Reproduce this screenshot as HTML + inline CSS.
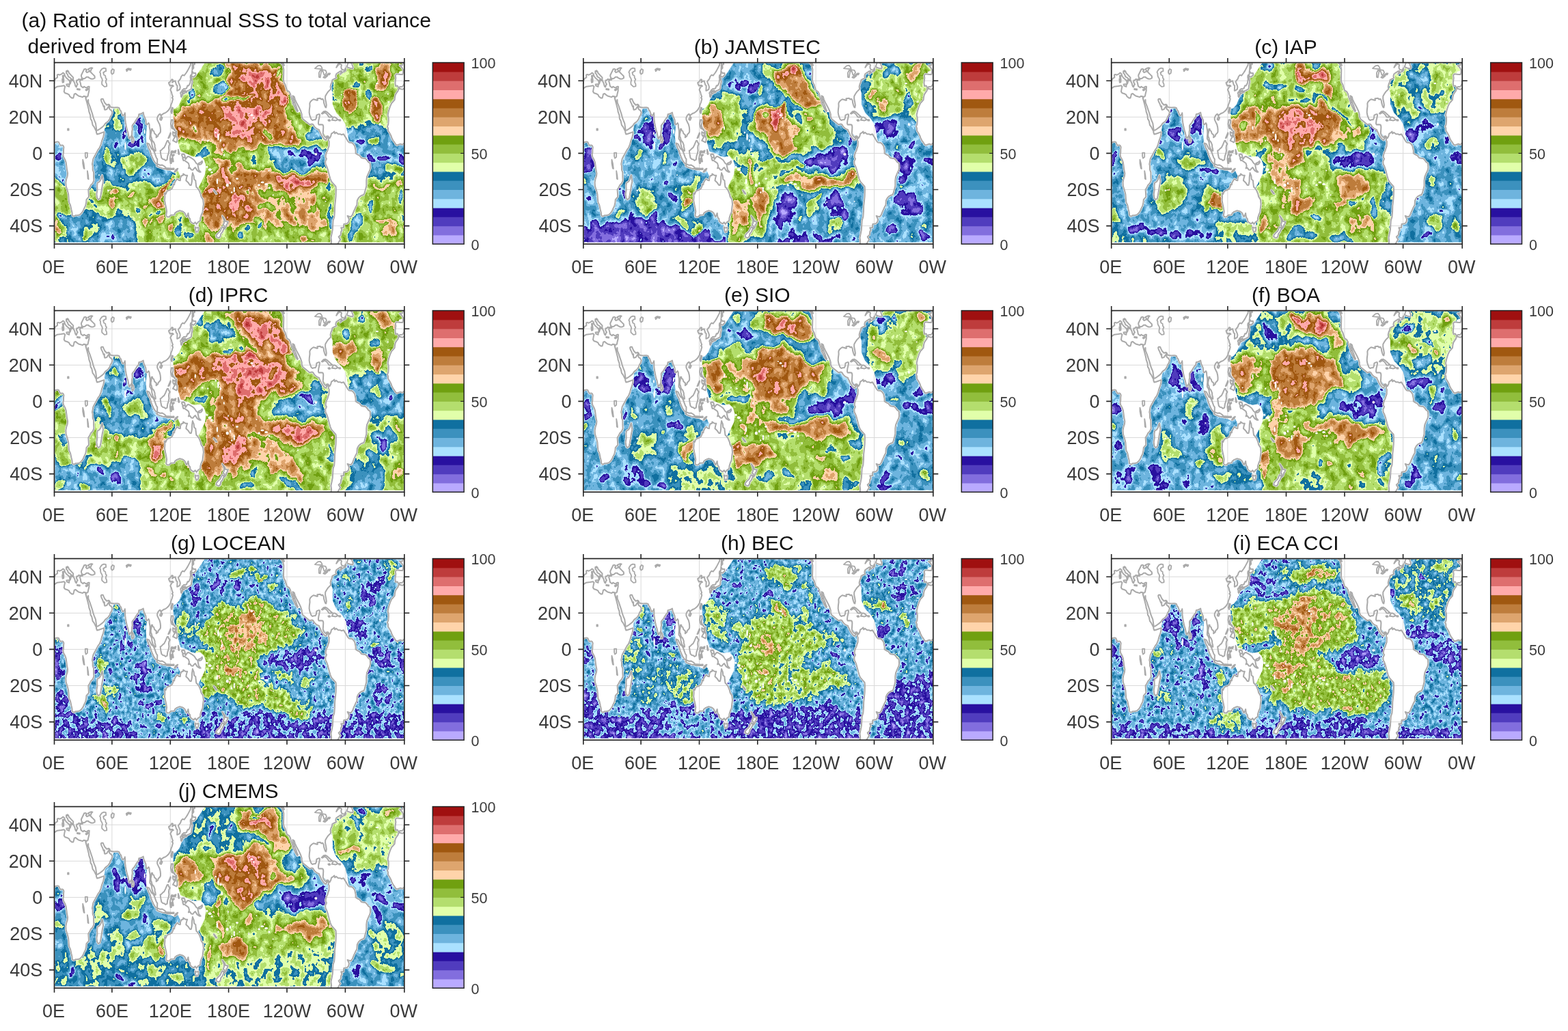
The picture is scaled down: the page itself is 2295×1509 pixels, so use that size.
<!DOCTYPE html>
<html lang="en"><head><meta charset="utf-8"><title>Ratio of interannual SSS to total variance</title>
<style>html,body{margin:0;padding:0;background:#fff}body{width:2295px;height:1509px;overflow:hidden}svg{display:block;font-family:'Liberation Sans', Arial, Helvetica, sans-serif}</style></head>
<body>
<svg width="2295" height="1509" viewBox="0 0 2295 1509">
<defs><clipPath id="fr"><rect x="0" y="0" width="512.3" height="265.6"/></clipPath><path id="land" d="M2.1 -0.5L-2.1 1.1L-2.6 3.7L-6.8 4.2L-3.6 7.2L-1.7 10.6L-1.7 14.6L-2.6 17.5L-5.7 17.3L-11.4 16.7L-13.1 18.6L-12.5 22.6L-13.4 29.7L-12.7 34.5L-10 34L-9 35.9L-7.8 37.2L-6.4 35.3L-2.8 35.1L-0.7 31.9L0 29.7L-0.4 27.9L1.4 23.9L4.6 21.5L4.3 18.1L5.7 17.3L7.8 18.1L10.7 16.7L12.8 14.9L14.7 16.5L15.7 19.9L17.8 22.6L19.9 24.4L22.3 26.6L22.8 30.5L22.3 31.9L23.5 30.5L24.2 27.9L23.6 25.8L24.2 25.2L26.2 26.6L25.6 24.4L22.8 21.8L20.6 20.7L19.2 17L17.6 15.4L17.5 12.5L19.5 11.7L19.4 13.3L20.6 12.7L21.6 15.4L23.5 17.3L25.6 19.7L27.7 21.8L27.6 25.2L28.7 27.9L29.9 30.5L30.6 33.2L31.3 35.1L32.4 35.9L33 33.2L34.2 31.9L33.4 30.5L32.4 28.4L32.7 25.8L34.2 26L35.6 24.2L37.3 24.7L38.1 25.2L39.8 23.9L41.3 23.4L40.6 22.6L39.8 21.2L39.4 18.6L40.7 15.9L42.3 12.7L43.7 9.6L45.5 9.3L47.7 10.6L46.2 12.5L47.7 14.6L50.5 13.3L51.9 12.5L49.8 10.1L49.8 9.3L52.7 8L54.8 7.7L55.9 8L54.1 9.8L53.4 12L52.7 13.3L54.1 14.9L56.5 17.3L59.1 19.9L59.2 22.6L56.9 23.9L54.1 23.9L51.2 22.6L49.8 21.2L47 21.2L44.8 23.1L42 23.6L41.3 25.2L38.4 25.5L37.3 26.6L37.7 28.4L38.4 30.5L38.8 33.2L39.1 34.5L40.3 35.3L42 36.7L43.5 35.1L45.5 36.4L47.7 36.9L49.4 35.1L51.2 35.1L50.9 38.5L50.9 41.2L50.5 42.8L49.8 45.7L49.1 49.1L47.7 50.2L46.2 49.9L46.4 53.1L47.7 57.1L48.7 59L49.7 54.4L49.8 58.4L51.9 63.7L53.4 68.3L55.5 74.4L56.9 79.7L58.3 83.7L60.5 89L61.2 94.3L61.9 99.1L64 98.8L66.9 96.9L69.7 94.8L72.6 92.2L74.7 89L76.8 87.6L79 85.5L81.1 82.6L82.3 78.9L83.7 77L85.1 73L83.4 70.1L81.1 68.3L80.3 66.4L80.1 62.9L79.7 64.3L78.3 65.9L76.8 68.5L74 69.1L73.3 67.7L73.4 63.7L72.3 64.8L71.4 62.4L70.4 59.8L69 57.1L68.3 54.4L69 53.1L71.2 53.1L72.3 55.8L74 59.2L76.8 62.2L79.7 61.1L81.1 62.4L81.8 64.8L84 65.3L87.5 65.9L90.4 65.6L92.5 65.6L94.9 66.4L96.1 69.6L97.5 70.9L98.2 73.3L99.6 77L100.3 77.6L102.5 76.2L103.3 73.6L103.6 77L103.6 82.3L104.3 87.6L105 91.6L106.4 98.3L107.9 102.8L108.6 106.5L109.6 110.8L110.3 111.3L111.3 109.2L112.4 108.1L113.6 105.4L113.7 100.9L114.3 98L114 92.4L115.3 90.3L117.1 88.4L118.8 85.5L121 81.8L123.1 79.7L123.8 75.7L125.9 75.2L128.1 74.4L130.2 73L130.9 77L131.3 78.4L132.3 80.2L133.8 83.7L134.5 90.3L135.9 90.8L138 88.4L139 90.3L139.2 94.3L140.2 99.6L140.3 104.9L139.9 108.9L139.9 111.6L141.6 114.2L142.7 116.9L142.7 119.5L143.4 122.2L144.2 125.4L145.9 127.5L147.3 129.1L148.3 129.1L148 126.2L147.1 123.5L147.1 120.8L145.9 117.4L145.2 116.1L143.7 114.5L143 113.4L142.3 110.2L141.3 108.1L141.2 104.9L142 101.5L142.3 97.2L143.6 97.2L143.7 99.1L145.6 100.4L146.6 103.6L148 104.9L149.4 106.2L149.1 109.7L151.6 107.6L152.3 105.2L154.1 103.6L155.4 101.5L155.5 98.3L155.1 94.3L154.1 90.3L152.6 87.6L150.8 83.7L150.6 81L152 77.8L153.7 75.7L155.1 75.4L156.1 78.4L157.2 76.5L159.4 74.9L161.5 73.8L162.5 73.6L165.1 71.7L167.2 69.6L168.6 67.5L170.1 65.1L170.8 61.9L172.2 58.4L173.3 54.4L173.6 53.1L172.2 51.5L173.5 49.9L172.2 46.5L171.2 42.5L169.8 39.8L171.2 37.2L172.2 35.3L174.3 34.5L172.9 33.2L169.3 34L167.9 31.3L167.5 29.2L169.3 28.4L172.2 24.4L173.6 25.2L172.6 29.2L175 27.4L176.9 26.8L177.9 30L178.6 32.7L180 33.7L179.9 37.2L179.7 41.2L181.4 40.6L183.6 39.3L184.3 35.9L183.6 33.2L182.2 30L181.4 27.9L182.9 25.8L184.6 23.9L185.7 20.5L187.8 18.1L190 19.1L192.8 15.4L195 12L197.1 8L199.2 4L199.9 0L201.4 -6.6L200.7 -15.9L2.1 -15.9ZM514.4 -0.5L510.2 1.1L509.7 3.7L505.5 4.2L508.7 7.2L510.6 10.6L510.6 14.6L509.7 17.5L506.6 17.3L500.9 16.7L499.2 18.6L499.8 22.6L498.9 29.7L499.6 34.5L502.3 34L503.3 35.9L504.5 37.2L505.9 35.3L509.5 35.1L511.6 31.9L512.3 29.7L511.9 27.9L513.7 23.9L516.9 21.5L516.6 18.1L518 17.3L520.1 18.1L523 16.7L525.1 14.9L527 16.5L528 19.9L530.1 22.6L532.2 24.4L534.6 26.6L535.1 30.5L534.6 31.9L535.8 30.5L536.5 27.9L535.9 25.8L536.5 25.2L538.5 26.6L537.9 24.4L535.1 21.8L532.9 20.7L531.5 17L529.9 15.4L529.8 12.5L531.8 11.7L531.7 13.3L532.9 12.7L533.9 15.4L535.8 17.3L537.9 19.7L540 21.8L539.9 25.2L541 27.9L542.2 30.5L542.9 33.2L543.6 35.1L544.7 35.9L545.3 33.2L546.5 31.9L545.7 30.5L544.7 28.4L545 25.8L546.5 26L547.9 24.2L549.6 24.7L550.4 25.2L552.1 23.9L553.6 23.4L552.9 22.6L552.1 21.2L551.7 18.6L553 15.9L554.6 12.7L556 9.6L557.8 9.3L560 10.6L558.5 12.5L560 14.6L562.8 13.3L564.2 12.5L562.1 10.1L562.1 9.3L565 8L567.1 7.7L568.2 8L566.4 9.8L565.7 12L565 13.3L566.4 14.9L568.8 17.3L571.4 19.9L571.5 22.6L569.2 23.9L566.4 23.9L563.5 22.6L562.1 21.2L559.3 21.2L557.1 23.1L554.3 23.6L553.6 25.2L550.7 25.5L549.6 26.6L550 28.4L550.7 30.5L551.1 33.2L551.4 34.5L552.6 35.3L554.3 36.7L555.8 35.1L557.8 36.4L560 36.9L561.7 35.1L563.5 35.1L563.2 38.5L563.2 41.2L562.8 42.8L562.1 45.7L561.4 49.1L560 50.2L558.5 49.9L558.7 53.1L560 57.1L561 59L562 54.4L562.1 58.4L564.2 63.7L565.7 68.3L567.8 74.4L569.2 79.7L570.6 83.7L572.8 89L573.5 94.3L574.2 99.1L576.3 98.8L579.2 96.9L582 94.8L584.9 92.2L587 89L589.1 87.6L591.3 85.5L593.4 82.6L594.6 78.9L596 77L597.4 73L595.7 70.1L593.4 68.3L592.6 66.4L592.4 62.9L592 64.3L590.6 65.9L589.1 68.5L586.3 69.1L585.6 67.7L585.7 63.7L584.6 64.8L583.7 62.4L582.7 59.8L581.3 57.1L580.6 54.4L581.3 53.1L583.5 53.1L584.6 55.8L586.3 59.2L589.1 62.2L592 61.1L593.4 62.4L594.1 64.8L596.3 65.3L599.8 65.9L602.7 65.6L604.8 65.6L607.2 66.4L608.4 69.6L609.8 70.9L610.5 73.3L611.9 77L612.6 77.6L614.8 76.2L615.6 73.6L615.9 77L615.9 82.3L616.6 87.6L617.3 91.6L618.7 98.3L620.2 102.8L620.9 106.5L621.9 110.8L622.6 111.3L623.6 109.2L624.7 108.1L625.9 105.4L626 100.9L626.6 98L626.3 92.4L627.6 90.3L629.4 88.4L631.1 85.5L633.3 81.8L635.4 79.7L636.1 75.7L638.2 75.2L640.4 74.4L642.5 73L643.2 77L643.6 78.4L644.6 80.2L646.1 83.7L646.8 90.3L648.2 90.8L650.3 88.4L651.3 90.3L651.5 94.3L652.5 99.6L652.6 104.9L652.2 108.9L652.2 111.6L653.9 114.2L655 116.9L655 119.5L655.7 122.2L656.5 125.4L658.2 127.5L659.6 129.1L660.6 129.1L660.3 126.2L659.4 123.5L659.4 120.8L658.2 117.4L657.5 116.1L656 114.5L655.3 113.4L654.6 110.2L653.6 108.1L653.5 104.9L654.3 101.5L654.6 97.2L655.9 97.2L656 99.1L657.9 100.4L658.9 103.6L660.3 104.9L661.7 106.2L661.4 109.7L663.9 107.6L664.6 105.2L666.4 103.6L667.7 101.5L667.8 98.3L667.4 94.3L666.4 90.3L664.9 87.6L663.1 83.7L662.9 81L664.3 77.8L666 75.7L667.4 75.4L668.4 78.4L669.5 76.5L671.7 74.9L673.8 73.8L674.8 73.6L677.4 71.7L679.5 69.6L680.9 67.5L682.4 65.1L683.1 61.9L684.5 58.4L685.6 54.4L685.9 53.1L684.5 51.5L685.8 49.9L684.5 46.5L683.5 42.5L682.1 39.8L683.5 37.2L684.5 35.3L686.6 34.5L685.2 33.2L681.6 34L680.2 31.3L679.8 29.2L681.6 28.4L684.5 24.4L685.9 25.2L684.9 29.2L687.3 27.4L689.2 26.8L690.2 30L690.9 32.7L692.3 33.7L692.2 37.2L692 41.2L693.7 40.6L695.9 39.3L696.6 35.9L695.9 33.2L694.5 30L693.7 27.9L695.2 25.8L696.9 23.9L698 20.5L700.1 18.1L702.3 19.1L705.1 15.4L707.3 12L709.4 8L711.5 4L712.2 0L713.7 -6.6L713 -15.9L514.4 -15.9ZM-8.3 37.7L-2.8 39.3L0 37.7L4.3 35.1L10 34.5L14.2 33.7L15.7 35.1L14.9 38.5L14.2 42.5L15.7 44.6L18.5 45.4L21.3 46.7L22.8 49.7L25.6 51.8L27.7 51.8L28.5 49.1L29.2 46.2L31.3 45.4L33.4 47.3L35.6 48.9L38.4 49.7L41.3 50.5L43.4 49.1L45.5 49.7L46.2 53.1L47.7 58.4L49.1 63.7L50.5 69.1L50.8 71.7L52.7 77L53.1 82.3L54.8 85L56.2 91.6L58.3 94.3L60.5 98.8L61.6 100.9L61.5 102.3L62.6 104.9L65.5 104.1L68.3 103.1L71.2 102L72.9 101.5L72.6 104.9L71.6 108.9L69.7 114.2L68.3 119.5L66.2 124.8L64 127.5L61.9 131.5L59.8 135.5L58.3 138.1L56.9 140.8L56.2 144.8L55.5 148.7L56.2 151.4L56.2 156.7L57.6 160.7L57.6 167.3L57.9 172.6L56.2 176.6L53.4 179.3L51.9 182.7L49.8 185.9L50.2 191.2L50.5 196.5L47 200.5L46.7 204.5L45.5 209.8L44.1 212.5L42 217.3L39.8 220.4L37 222.8L34.2 223.4L31.3 223.6L28.5 225.2L26.3 223.6L25.9 219.1L24.9 215.1L23.5 208.5L21.6 204.5L21.1 199.2L20.6 192.6L19.2 187.2L17.1 180.6L16.8 175.3L17.8 170L19.2 166L19.6 162L18.5 156.7L17.5 148.7L17.1 146.1L15.7 142.1L13.5 138.1L12.8 134.7L13.5 131.5L13.5 127.5L13.9 123.5L12.8 121.4L11.4 120.8L9.2 121.4L7.8 119.5L6.4 116.3L4.3 115.8L2.1 116.3L0 117.7L-2.8 120.1L-5.7 119L-8.5 120.1L-10.7 121.1L-12.8 119.5L-14.9 116.1L-16.4 114.2L-18.5 110.2L-19.2 107.6L-21.3 103.6L-23.8 99.6L-23.9 95.6L-24.9 93.8L-23.5 90.3L-23.1 85L-23.1 81L-24.2 77L-22.8 70.4L-20.6 63.7L-18.5 59.2L-16.4 57.1L-14.2 54.4L-13.8 50.5L-12.8 46.5L-10.7 43.3L-9.2 41.2ZM504 37.7L509.5 39.3L512.3 37.7L516.6 35.1L522.3 34.5L526.5 33.7L528 35.1L527.2 38.5L526.5 42.5L528 44.6L530.8 45.4L533.6 46.7L535.1 49.7L537.9 51.8L540 51.8L540.8 49.1L541.5 46.2L543.6 45.4L545.7 47.3L547.9 48.9L550.7 49.7L553.6 50.5L555.7 49.1L557.8 49.7L558.5 53.1L560 58.4L561.4 63.7L562.8 69.1L563.1 71.7L565 77L565.4 82.3L567.1 85L568.5 91.6L570.6 94.3L572.8 98.8L573.9 100.9L573.8 102.3L574.9 104.9L577.8 104.1L580.6 103.1L583.5 102L585.2 101.5L584.9 104.9L583.9 108.9L582 114.2L580.6 119.5L578.5 124.8L576.3 127.5L574.2 131.5L572.1 135.5L570.6 138.1L569.2 140.8L568.5 144.8L567.8 148.7L568.5 151.4L568.5 156.7L569.9 160.7L569.9 167.3L570.2 172.6L568.5 176.6L565.7 179.3L564.2 182.7L562.1 185.9L562.5 191.2L562.8 196.5L559.3 200.5L559 204.5L557.8 209.8L556.4 212.5L554.3 217.3L552.1 220.4L549.3 222.8L546.5 223.4L543.6 223.6L540.8 225.2L538.6 223.6L538.2 219.1L537.2 215.1L535.8 208.5L533.9 204.5L533.4 199.2L532.9 192.6L531.5 187.2L529.4 180.6L529.1 175.3L530.1 170L531.5 166L531.9 162L530.8 156.7L529.8 148.7L529.4 146.1L528 142.1L525.8 138.1L525.1 134.7L525.8 131.5L525.8 127.5L526.2 123.5L525.1 121.4L523.7 120.8L521.5 121.4L520.1 119.5L518.7 116.3L516.6 115.8L514.4 116.3L512.3 117.7L509.5 120.1L506.6 119L503.8 120.1L501.6 121.1L499.5 119.5L497.4 116.1L495.9 114.2L493.8 110.2L493.1 107.6L491 103.6L488.5 99.6L488.4 95.6L487.4 93.8L488.8 90.3L489.2 85L489.2 81L488.1 77L489.5 70.4L491.7 63.7L493.8 59.2L495.9 57.1L498.1 54.4L498.5 50.5L499.5 46.5L501.6 43.3L503.1 41.2ZM330.1 -15.9L329.4 -2.7L330.9 -1.3L334.4 4L335.8 9.8L335.6 18.6L335.4 25.5L336.1 29.2L338 32.4L338.8 35.6L340.7 40.9L343.7 42.5L345.5 45.9L346.2 49.1L347.5 53.1L348.9 57.1L350.1 59L348.9 59.2L350.8 62.4L352.6 66.4L353.6 68.5L355.8 71.7L356.5 70.4L355.1 67.7L353.9 63.7L352.2 59.8L350.8 55.8L349.4 51.8L348.9 48.6L351.2 49.9L352.2 53.7L354.3 58.4L356.5 62.4L358.6 66.4L360.7 70.9L362.2 75.7L362.2 79.1L363.6 82.3L367.1 85.3L370 87.6L373.6 90.6L377.1 90L378.5 90.3L380.7 93.8L382.8 95.9L384.9 97.2L387.5 98.3L387.8 99.6L389.2 102.3L390.3 104.9L391.3 106.8L393.2 109.7L394.2 111L396.3 112.9L397.7 113.4L398.5 111L399.2 108.9L400.9 110.8L401.6 114.2L402.2 115.5L402 122.2L400.6 126.2L399.9 128.8L398.5 131.5L397.3 135.5L397.2 138.6L398.5 140.8L396.7 144.8L397 148.7L398.7 151.9L400.2 156.2L402.4 164.7L403.9 170L405.6 174L409.1 178L412 181.4L412.4 185.9L412.1 195.2L411.5 201.9L410.6 209.8L410.4 217.8L409.8 225.8L408.1 231.1L407.7 237.7L407.3 244.4L406.3 249.7L404.9 256.3L405.6 261.6L404.9 266.9L406.3 273.6L412.7 281.5L415.5 281.5L414.8 271.7L414.1 266.9L416.2 262.9L418.7 259L416.2 255L419.1 252.3L419.8 247L421.2 245.7L419.8 241.7L423.4 241.7L423.8 236.4L428.3 235.6L430.5 233.7L431.5 229.7L430.5 227.1L429.1 224.4L431.2 225L434 225.8L436.2 223.1L438.3 217.8L440.7 212.5L442.9 208.5L443.3 201.9L445.4 197.9L448.3 195.2L451.1 193.9L452.5 193.9L454 191.2L455.4 185.9L456.8 180.6L456.8 172.6L457.5 167.3L459.4 162.8L461.8 157.5L462.6 154L462.2 147.4L459.6 145.5L457.5 142.6L455.4 140.5L452.5 140.2L449.3 139.4L446.8 136L444 134.7L441.1 132.8L441.1 128.8L439.7 122.2L437.6 119L435.5 117.4L431.2 116.9L429.1 114.2L426.9 110.2L424.8 107L423.4 104.6L420.5 105.7L418.4 104.6L415.5 104.6L412.7 102.3L410.6 103.8L409.8 100.9L407.7 102.8L405.6 104.1L404.7 107.6L403 110.8L402.2 109.7L400.6 107.6L399 107.6L397 109.4L395.6 108.4L394.2 106.2L393.2 103.6L393.5 99.6L393.8 94.3L393.5 92.4L392.8 90.8L389.9 90.6L387.1 90.8L386.4 89L386.8 85L387.8 81L388.5 77L388.2 75.7L386.4 75.7L383.8 77L383.5 81L382.1 83.7L380 83.7L377.8 84.5L376 82.9L375 80.2L373.8 77L373.1 73L373.3 69.1L374 63.7L373.8 59.8L375 57.1L377.1 55.2L379.2 53.7L382.1 54.4L384.2 55.2L385.4 55.2L384.9 52.6L387.1 52.3L389.2 52.1L390.9 53.9L392.8 53.1L394.2 55.8L394.6 59L395.6 62.4L396.6 65.1L397.7 65.9L398.3 62.4L397.7 58.4L396.6 53.1L396.7 49.1L398.5 45.9L400.6 42.8L402.7 40.6L404.6 39L404.1 35.1L404.9 31.9L406.6 27.9L407 25.2L409.8 23.9L412.7 22.6L411.7 19.9L412.7 16.7L414.8 15.1L417 13.8L418.4 12.7L420.5 12.5L418.4 17.3L421.2 14.6L425.5 12.5L426.9 10.6L426.2 8L424.8 11.2L422.6 10.6L420.5 9.8L419.8 6.6L420.5 3.2L418.4 2.1L415.5 3.5L412.7 7.2L414.8 2.7L418.4 -0.5L424.1 -0.8L428.3 -2.7L431.2 -5.3L431.2 -15.9ZM427.9 6.4L432.6 8.2L436.9 8.8L437.3 6.4L436.2 4L435.5 1.3L432.9 0L431.2 -2.1L429.8 1.3ZM391.3 74.6L394.2 71.7L397 71.2L399.9 73L402.7 75.7L404.9 77.8L406.7 79.1L405.6 79.9L402 79.9L400.6 77.6L398.5 74.9L395.6 73L392.8 74.9ZM406.3 84.2L408.4 79.9L410.6 79.9L413 81.5L415 83.4L413.4 84.2L411.3 85L409.8 84.5ZM400.9 84.2L402.7 83.7L403.9 85L402 85.5ZM416.7 83.7L418.8 83.9L418.7 85L416.7 85ZM70.2 164.7L71.6 174L70.4 179.3L69.4 185.9L68 193.9L66.9 199.2L64.3 200.5L62.6 197.9L61.9 192.6L63 185.9L62.6 180.6L63.3 175.8L65.9 174.5L68 171.3L69.4 166ZM113.6 107L115.6 110.2L116.4 114.2L115.3 116.9L113.8 116.9L113.4 111.6ZM135.6 117.9L138.7 119L140.2 122.2L142.3 126.2L144.4 127.5L146.6 131.5L148 135.5L149.4 139.4L150.8 141.3L150.6 148.2L148.7 147.9L145.9 144L143.7 139.4L141.6 134.1L140.2 128.8L138 124.8ZM149.7 150.9L151.6 148.7L154.4 150.1L157.7 149.8L160.5 151.4L162.9 153.5L162.7 155.6L158 154.8L154.4 153.5L151.6 152.5ZM163.7 154.6L166.5 154.6L169.3 154.8L172.2 155.1L175 154.8L175 156.4L170.8 156.4L166.5 156.7L163.7 156.2ZM175.7 160.2L177.9 156.7L180.7 155.1L179.3 158L176.5 160.2ZM155.1 128.8L156.5 128.3L158.4 126.2L160.8 124.3L162.9 120.1L165.1 114.7L166.5 114.2L167.5 116.9L169.3 119L167.9 121.4L167.5 124.8L167.9 128.8L167.2 132.8L165.8 136.8L165.1 142.1L162.9 143.4L160.8 141.6L158.7 141.3L156.8 139.4L155.8 134.1ZM170.1 147.4L171.3 147.4L171.2 140.8L172.2 140L172.9 144.8L174.3 144.8L173.6 140.8L172.9 137.8L175.3 135.5L175 134.4L172.5 136L170.8 131.5L171.9 129.3L175 130.1L177.9 128.8L177.2 131.5L172.2 131.5L170.8 134.1L170.1 135.5L169.3 140.8ZM186.4 134.9L188.6 133.9L190.7 134.9L192.1 141.6L195 137.6L196.4 137.3L200.7 139.7L204.9 142.9L207.8 147.4L209.9 148.7L210.3 151.4L211.3 156.7L214.2 160.2L212.7 160.2L209.2 158L206.3 153.5L204.2 155.4L202.8 157.2L200.7 157L198.5 154L196.4 154.8L197.5 151.4L196.4 147.4L192.8 144.8L190 142.9L189 143.4L187.8 140.2L190 138.9L187.8 138.6ZM211.3 147.4L214.2 146.1L216.3 144L216.7 146.1L214.9 148.7L212 149.3ZM181.4 127.5L182.2 130.1L182.9 134.1L181.9 134.1L181.4 130.1ZM171.5 83.7L173.9 83.9L174 87.6L172.9 91.6L174 95.6L176.5 98.3L176.5 99.6L174.3 96.9L172.2 96.4L171.2 93.5L170.5 89.8ZM173.6 101.5L175.3 102.3L176.5 103.6L178.6 100.1L178.9 103.6L177.9 105.7L176.5 106.2L175.5 108.1L174.3 106.8L173.6 104.9ZM173.6 114.2L175.7 110.2L178.6 106.8L180 111.6L179.6 115.5L178.6 116.9L176.5 115.5ZM166.8 110.5L170.1 102.8L170.3 104.6L167.9 110ZM170.9 71.7L172.2 65.9L173.5 66.4L172.9 70.4L171.9 74.4ZM154.7 81.8L157.2 79.7L158 81L156.5 84.2L154.7 83.4ZM186.3 42.8L187.4 44.4L187.7 46.5L186.8 49.4L186 50.5L185.3 49.1L185.4 46.5L184.6 45.2L185 43.6ZM188.6 43L190.7 41.7L191.7 43L191 44.4L189.3 45.7L188.3 44.4ZM186.3 42.5L188.6 41.7L191.4 40.6L192.4 41.7L193.3 43.8L194.8 41.2L196.7 40.9L197.8 39.8L198.9 39.8L200.5 38L200.7 34.5L201.4 31.1L202.1 27.9L201.4 25.2L201.2 22.8L199.7 23.4L199.2 26.6L198.9 29.2L197.8 31.9L196.4 34L195 33.7L194.5 35.1L193.5 37.7L192.1 38.2L189.3 38.5L187.1 40.6ZM199.2 22.6L200.7 21.8L200.9 19.9L203.9 21.2L207.1 18.1L206.8 15.4L203.5 15.4L201.6 12.2L201.5 15.9L201.1 18.1L199.7 18.1L199.2 19.9ZM201.9 10.6L202.9 8.8L203.9 8L203.5 2.7L205.6 2.7L204.2 -5.3L202.1 -5.3L202.1 5.3ZM161.5 191.2L162.2 190.7L162.9 192.6L165.1 188L168.6 186.7L172.2 184.6L174 180.6L173.9 178L175.7 178.7L176 176.1L177.9 172.6L180 170L182.2 172.1L184.3 172.6L184.6 168.7L186.1 165.7L188.6 164.9L188.6 162.8L192.1 165.2L194.7 165.2L193.5 168.7L192.8 172.6L195.7 175.3L198.5 179.3L200.4 179.3L201.4 174L201.6 167.3L202.4 161.5L204.2 166L204.6 170.8L206.8 172.6L207.1 176.6L207.8 181.9L209.9 184.1L212 187.2L214.2 192.6L214.9 196L217.7 200.5L218.4 207.2L217.7 212.5L217 219.1L215.3 222.6L213.9 227.1L213.5 231.6L210.6 233.2L208.5 235.9L208.2 236.6L206.1 233.7L204.2 235.9L201.4 234.5L199.2 232.4L198.5 228.4L197.1 227.1L196.4 224.4L196 220.4L195 223.1L193.5 225.8L192.8 224.4L190.7 219.9L187.8 217.8L183.6 216.7L179.3 218.3L176.5 220.4L175.7 222.8L170.8 223.1L167.9 225.8L165.1 225.8L163.7 223.9L164.6 217.8L163.7 212.5L162.5 207.2L161.5 201.9L161.9 196.5ZM205.9 240.9L208.5 242L211 241.2L211 244.4L209.9 247.8L207.8 248.3L206.8 245.1ZM245.8 224.2L248 227.1L249.7 229.7L250.5 232.4L253.3 232.7L254 232.9L253 236.9L251.9 237.2L251.7 239.8L249.5 243.3L248.6 242.5L249 239.6L247.3 237.2L248.5 234.5L248.6 231.1L246.9 227.1ZM245.8 240.4L248 242.2L247.6 244.4L245.9 248.3L243.8 250.5L243.1 254.4L241.2 256.6L239.5 256.3L236.9 255L237.4 252.3L239.5 249.7L242.6 247L243.8 244.4L245.1 241.2ZM233.4 186.5L235.5 188.6L237.7 192L236.7 192L234.1 188.6ZM17.8 31.9L22.1 31.3L21.6 35.3L18.5 34ZM11.7 23.9L13.8 23.9L13.7 28.7L12.1 29.2ZM12.2 19.1L13.5 18.9L13.4 22.6L12.4 21.8ZM33.4 38.5L37.3 39L37.3 39.8L33.6 39.3ZM46 39.8L49.1 38.2L48.4 40.1L46.7 40.9ZM329.7 -2.1L334.4 0L336.6 4L334.4 3.2L330.9 0Z"/><path id="lakes" d="M67.6 12L69.7 9.3L72.6 8L75.4 8.5L75.7 12.5L73 13.3L72.6 14.6L71.6 14.6L72.6 18.1L74.7 19.1L75.1 22.6L76.6 24.4L75.4 26.6L75.4 29.2L76.6 31.3L76.8 34.5L75.4 35.1L73.3 35.3L71.4 33.5L69.7 31.9L69.6 28.7L70.4 25.8L69.7 23.1L68.3 21.2L67.6 18.6L67.6 15.9L66.6 14.1ZM83.2 12L85.4 9.3L87.5 10.6L86.8 15.4L84.7 17L83.2 15.1ZM105.3 10.1L108.2 8.5L112.4 9.3L111.7 11.2L108.2 10.1L106 12.7ZM45.3 132L48.4 132L48.4 138.1L46.2 140L45.3 136.8ZM41.7 142.1L43.1 147.4L44.1 155.4L43.1 154.8L41.7 147.4ZM48.4 158.6L49.5 164.7L50.1 170.8L49.1 170L48.7 163.3ZM19.6 96.9L21.1 96.9L21.1 99.1L19.6 99.1ZM381.4 8.5L385.6 4.8L389.2 4L391.6 7.2L392.1 9.3L388.5 9.3L383.5 8.8ZM387.4 21.2L389.2 21.8L389.9 17.3L391.3 11.4L389.2 11.2L387.4 15.1ZM392.1 10.6L397 11.2L398.5 14.6L396 18.3L394.9 18.1L393.8 14.6ZM393.8 21.8L396.3 22.6L399.9 19.4L398.5 19.1L394.9 20.5ZM398.7 17.8L402.7 17.8L403.7 15.9L401.3 15.9Z"/><mask id="ocean" maskUnits="userSpaceOnUse" x="0" y="0" width="512.3" height="265.6"><rect x="0.8" y="0.8" width="510.7" height="262.2" fill="#fff"/><use href="#land" fill="#000" stroke="#000" stroke-width="3" stroke-linejoin="round"/><path d="M-8 37.4L-8 13.3L28.5 2.7L64 5.3L88.2 47.8L87.5 65.6L85.2 73.3L74.6 89.2L73 101.5L56.9 116.9L28.5 79.7L-8 45.2ZM504.3 37.4L504.3 13.3L540.8 2.7L576.3 5.3L600.5 47.8L599.8 65.6L597.5 73.3L586.9 89.2L585.3 101.5L569.2 116.9L540.8 79.7L504.3 45.2ZM138.7 87.6L135.5 90.8L134.1 106.2L134.9 117.7L138 126.2L142.3 136.3L147.3 146.9L149.7 151.4L156.5 154.8L162.9 156.2L169.3 158.3L175.7 161.5L180.7 158L184.3 166L189.3 167.3L195 178L200.7 180.6L207.1 179.3L209.9 184.9L214.9 175.3L220.6 163.3L222 151.4L219.2 142.1L213.5 136.8L206.3 138.1L200.7 136.8L195.7 134.1L190.7 132L185 130.1L183.3 124.8L180.7 115.5L180.2 107.6L179 99.6L175.7 94.3L174.5 83.7L173.9 74.4L174.3 67.7L177.9 66.9L182.9 61.1L186.4 52.3L188.3 47L191.4 44.9L194 43.6L197.8 42L201.1 38.2L202.5 27.9L202.1 21.8L204.9 20.5L208.5 18.1L213.5 10.6L221.3 -1.3L222 -18.6L170.8 -18.6L156.5 26.6L142.3 66.4ZM404.4 36.4L407.3 43.8L407.3 61.1L412.7 73.6L421.2 82.3L426.2 90.3L428.6 100.9L430.5 111.6L431.9 116.9L419.8 124.8L402.7 114.2L384.2 90.3L370 79.7L372.8 53.1L391.3 45.2ZM348.6 47.8L355.8 72.8L361.5 72.2L352.2 48.3ZM412 8L418.4 13.8L420.5 15.9L426.9 12L428.3 7.2L430.5 1.3L431.9 -5.3L415.5 -5.3ZM204.9 235.1L211.3 235.1L211.3 241.4L205.6 241.4Z" fill="#000"/><g fill="#000"><ellipse cx="239.9" cy="108.9" rx="1.3" ry="5"/><ellipse cx="243.3" cy="114.2" rx="1.2" ry="2"/><ellipse cx="236.2" cy="102.3" rx="1.2" ry="1.5"/><ellipse cx="245.5" cy="127.5" rx="1.2" ry="2.5"/><ellipse cx="248.3" cy="135.5" rx="1" ry="2"/><ellipse cx="224.8" cy="114.2" rx="1.2" ry="1.2"/><ellipse cx="216.3" cy="112.9" rx="1" ry="1"/><ellipse cx="206.3" cy="95.6" rx="1" ry="3"/><ellipse cx="191.4" cy="112.9" rx="1" ry="1"/><ellipse cx="288.9" cy="77" rx="2" ry="1.5"/><ellipse cx="285.3" cy="74.4" rx="1" ry="1"/><ellipse cx="291.7" cy="81" rx="1.2" ry="1.5"/><ellipse cx="253.3" cy="179.3" rx="2.2" ry="2.5"/><ellipse cx="257.6" cy="176.6" rx="1.2" ry="2"/><ellipse cx="263.3" cy="185.9" rx="1.2" ry="4"/><ellipse cx="267.5" cy="170" rx="2" ry="1.3"/><ellipse cx="259.7" cy="189.9" rx="1" ry="1.5"/><ellipse cx="271.1" cy="183.3" rx="1" ry="1"/><ellipse cx="254.7" cy="154" rx="1" ry="1.5"/><ellipse cx="251.9" cy="167.3" rx="1" ry="1"/><ellipse cx="238.4" cy="174" rx="1.2" ry="4"/><ellipse cx="239.8" cy="183.3" rx="1" ry="1.5"/><ellipse cx="235.5" cy="188.6" rx="1.8" ry="1.5"/><ellipse cx="227.7" cy="156.7" rx="2.5" ry="2"/><ellipse cx="230.5" cy="160.7" rx="1.5" ry="1.5"/><ellipse cx="223.4" cy="152.7" rx="1.5" ry="1.5"/><ellipse cx="299.6" cy="179.3" rx="1.8" ry="1.3"/><ellipse cx="304.5" cy="175.3" rx="2.5" ry="1.3"/><ellipse cx="310.2" cy="178" rx="2.5" ry="1.5"/><ellipse cx="314.5" cy="183.3" rx="1.5" ry="1.5"/><ellipse cx="320.2" cy="193.9" rx="1" ry="1"/><ellipse cx="313.8" cy="158" rx="1" ry="1.2"/><ellipse cx="284.6" cy="185.9" rx="1" ry="1.5"/><ellipse cx="296" cy="159.4" rx="1" ry="1"/><ellipse cx="103.9" cy="122.2" rx="1.2" ry="6"/><ellipse cx="103.2" cy="103.6" rx="1" ry="2.5"/><ellipse cx="79" cy="187.2" rx="1.3" ry="1.5"/><ellipse cx="81.8" cy="186.5" rx="1" ry="1"/><ellipse cx="65.5" cy="164.7" rx="1" ry="1"/><ellipse cx="132.3" cy="100.9" rx="1" ry="3.5"/><ellipse cx="137.3" cy="164.7" rx="1" ry="1"/><ellipse cx="476.7" cy="90.3" rx="1.5" ry="2"/><ellipse cx="489.5" cy="57.6" rx="1.8" ry="1"/><ellipse cx="472.5" cy="30.5" rx="2" ry="1.2"/><ellipse cx="488.1" cy="45.9" rx="1" ry="1"/><ellipse cx="420.2" cy="47" rx="1" ry="1"/><ellipse cx="356.5" cy="204.5" rx="1" ry="1"/><ellipse cx="382.8" cy="134.1" rx="2" ry="2"/><ellipse cx="397" cy="203.2" rx="1" ry="1"/></g></mask><filter id="bl" filterUnits="userSpaceOnUse" x="-30" y="-30" width="572.3" height="325.6" color-interpolation-filters="sRGB"><feGaussianBlur stdDeviation="3.6"/></filter><filter id="q0" filterUnits="userSpaceOnUse" x="-16" y="-16" width="544.3" height="297.6" color-interpolation-filters="sRGB"><feGaussianBlur in="SourceGraphic" stdDeviation="2.0" result="b"/><feTurbulence type="fractalNoise" baseFrequency="0.035 0.028" numOctaves="2" seed="11" result="w"/><feDisplacementMap in="b" in2="w" scale="34" xChannelSelector="R" yChannelSelector="G" result="d"/><feTurbulence type="fractalNoise" baseFrequency="0.09 0.072" numOctaves="3" seed="3" result="t"/><feColorMatrix in="t" type="matrix" values="1 0 0 0 0 1 0 0 0 0 1 0 0 0 0 0 0 0 0 1" result="n"/><feComposite in="d" in2="n" operator="arithmetic" k1="0" k2="1" k3="0.3" k4="-0.150" result="s"/><feComponentTransfer in="s"><feFuncR type="discrete" tableValues="0.725 0.510 0.314 0.157 0.667 0.431 0.235 0.063 0.882 0.706 0.569 0.439 1.000 0.871 0.745 0.627 1.000 0.871 0.745 0.627"/><feFuncG type="discrete" tableValues="0.667 0.431 0.235 0.063 0.882 0.706 0.569 0.439 1.000 0.871 0.745 0.627 0.831 0.647 0.490 0.345 0.667 0.431 0.235 0.063"/><feFuncB type="discrete" tableValues="1.000 0.871 0.745 0.627 1.000 0.871 0.745 0.627 0.667 0.431 0.235 0.063 0.667 0.431 0.235 0.063 0.667 0.431 0.235 0.063"/></feComponentTransfer></filter><filter id="q1" filterUnits="userSpaceOnUse" x="-16" y="-16" width="544.3" height="297.6" color-interpolation-filters="sRGB"><feGaussianBlur in="SourceGraphic" stdDeviation="2.0" result="b"/><feTurbulence type="fractalNoise" baseFrequency="0.035 0.028" numOctaves="2" seed="16" result="w"/><feDisplacementMap in="b" in2="w" scale="34" xChannelSelector="R" yChannelSelector="G" result="d"/><feTurbulence type="fractalNoise" baseFrequency="0.09 0.072" numOctaves="3" seed="10" result="t"/><feColorMatrix in="t" type="matrix" values="1 0 0 0 0 1 0 0 0 0 1 0 0 0 0 0 0 0 0 1" result="n"/><feComposite in="d" in2="n" operator="arithmetic" k1="0" k2="1" k3="0.3" k4="-0.150" result="s"/><feComponentTransfer in="s"><feFuncR type="discrete" tableValues="0.725 0.510 0.314 0.157 0.667 0.431 0.235 0.063 0.882 0.706 0.569 0.439 1.000 0.871 0.745 0.627 1.000 0.871 0.745 0.627"/><feFuncG type="discrete" tableValues="0.667 0.431 0.235 0.063 0.882 0.706 0.569 0.439 1.000 0.871 0.745 0.627 0.831 0.647 0.490 0.345 0.667 0.431 0.235 0.063"/><feFuncB type="discrete" tableValues="1.000 0.871 0.745 0.627 1.000 0.871 0.745 0.627 0.667 0.431 0.235 0.063 0.667 0.431 0.235 0.063 0.667 0.431 0.235 0.063"/></feComponentTransfer></filter><filter id="q2" filterUnits="userSpaceOnUse" x="-16" y="-16" width="544.3" height="297.6" color-interpolation-filters="sRGB"><feGaussianBlur in="SourceGraphic" stdDeviation="2.0" result="b"/><feTurbulence type="fractalNoise" baseFrequency="0.035 0.028" numOctaves="2" seed="21" result="w"/><feDisplacementMap in="b" in2="w" scale="34" xChannelSelector="R" yChannelSelector="G" result="d"/><feTurbulence type="fractalNoise" baseFrequency="0.09 0.072" numOctaves="3" seed="17" result="t"/><feColorMatrix in="t" type="matrix" values="1 0 0 0 0 1 0 0 0 0 1 0 0 0 0 0 0 0 0 1" result="n"/><feComposite in="d" in2="n" operator="arithmetic" k1="0" k2="1" k3="0.3" k4="-0.150" result="s"/><feComponentTransfer in="s"><feFuncR type="discrete" tableValues="0.725 0.510 0.314 0.157 0.667 0.431 0.235 0.063 0.882 0.706 0.569 0.439 1.000 0.871 0.745 0.627 1.000 0.871 0.745 0.627"/><feFuncG type="discrete" tableValues="0.667 0.431 0.235 0.063 0.882 0.706 0.569 0.439 1.000 0.871 0.745 0.627 0.831 0.647 0.490 0.345 0.667 0.431 0.235 0.063"/><feFuncB type="discrete" tableValues="1.000 0.871 0.745 0.627 1.000 0.871 0.745 0.627 0.667 0.431 0.235 0.063 0.667 0.431 0.235 0.063 0.667 0.431 0.235 0.063"/></feComponentTransfer></filter><filter id="q3" filterUnits="userSpaceOnUse" x="-16" y="-16" width="544.3" height="297.6" color-interpolation-filters="sRGB"><feGaussianBlur in="SourceGraphic" stdDeviation="2.0" result="b"/><feTurbulence type="fractalNoise" baseFrequency="0.035 0.028" numOctaves="2" seed="26" result="w"/><feDisplacementMap in="b" in2="w" scale="34" xChannelSelector="R" yChannelSelector="G" result="d"/><feTurbulence type="fractalNoise" baseFrequency="0.09 0.072" numOctaves="3" seed="24" result="t"/><feColorMatrix in="t" type="matrix" values="1 0 0 0 0 1 0 0 0 0 1 0 0 0 0 0 0 0 0 1" result="n"/><feComposite in="d" in2="n" operator="arithmetic" k1="0" k2="1" k3="0.3" k4="-0.150" result="s"/><feComponentTransfer in="s"><feFuncR type="discrete" tableValues="0.725 0.510 0.314 0.157 0.667 0.431 0.235 0.063 0.882 0.706 0.569 0.439 1.000 0.871 0.745 0.627 1.000 0.871 0.745 0.627"/><feFuncG type="discrete" tableValues="0.667 0.431 0.235 0.063 0.882 0.706 0.569 0.439 1.000 0.871 0.745 0.627 0.831 0.647 0.490 0.345 0.667 0.431 0.235 0.063"/><feFuncB type="discrete" tableValues="1.000 0.871 0.745 0.627 1.000 0.871 0.745 0.627 0.667 0.431 0.235 0.063 0.667 0.431 0.235 0.063 0.667 0.431 0.235 0.063"/></feComponentTransfer></filter><filter id="q4" filterUnits="userSpaceOnUse" x="-16" y="-16" width="544.3" height="297.6" color-interpolation-filters="sRGB"><feGaussianBlur in="SourceGraphic" stdDeviation="2.0" result="b"/><feTurbulence type="fractalNoise" baseFrequency="0.035 0.028" numOctaves="2" seed="31" result="w"/><feDisplacementMap in="b" in2="w" scale="34" xChannelSelector="R" yChannelSelector="G" result="d"/><feTurbulence type="fractalNoise" baseFrequency="0.09 0.072" numOctaves="3" seed="31" result="t"/><feColorMatrix in="t" type="matrix" values="1 0 0 0 0 1 0 0 0 0 1 0 0 0 0 0 0 0 0 1" result="n"/><feComposite in="d" in2="n" operator="arithmetic" k1="0" k2="1" k3="0.3" k4="-0.150" result="s"/><feComponentTransfer in="s"><feFuncR type="discrete" tableValues="0.725 0.510 0.314 0.157 0.667 0.431 0.235 0.063 0.882 0.706 0.569 0.439 1.000 0.871 0.745 0.627 1.000 0.871 0.745 0.627"/><feFuncG type="discrete" tableValues="0.667 0.431 0.235 0.063 0.882 0.706 0.569 0.439 1.000 0.871 0.745 0.627 0.831 0.647 0.490 0.345 0.667 0.431 0.235 0.063"/><feFuncB type="discrete" tableValues="1.000 0.871 0.745 0.627 1.000 0.871 0.745 0.627 0.667 0.431 0.235 0.063 0.667 0.431 0.235 0.063 0.667 0.431 0.235 0.063"/></feComponentTransfer></filter><filter id="q5" filterUnits="userSpaceOnUse" x="-16" y="-16" width="544.3" height="297.6" color-interpolation-filters="sRGB"><feGaussianBlur in="SourceGraphic" stdDeviation="2.0" result="b"/><feTurbulence type="fractalNoise" baseFrequency="0.035 0.028" numOctaves="2" seed="36" result="w"/><feDisplacementMap in="b" in2="w" scale="34" xChannelSelector="R" yChannelSelector="G" result="d"/><feTurbulence type="fractalNoise" baseFrequency="0.09 0.072" numOctaves="3" seed="38" result="t"/><feColorMatrix in="t" type="matrix" values="1 0 0 0 0 1 0 0 0 0 1 0 0 0 0 0 0 0 0 1" result="n"/><feComposite in="d" in2="n" operator="arithmetic" k1="0" k2="1" k3="0.3" k4="-0.150" result="s"/><feComponentTransfer in="s"><feFuncR type="discrete" tableValues="0.725 0.510 0.314 0.157 0.667 0.431 0.235 0.063 0.882 0.706 0.569 0.439 1.000 0.871 0.745 0.627 1.000 0.871 0.745 0.627"/><feFuncG type="discrete" tableValues="0.667 0.431 0.235 0.063 0.882 0.706 0.569 0.439 1.000 0.871 0.745 0.627 0.831 0.647 0.490 0.345 0.667 0.431 0.235 0.063"/><feFuncB type="discrete" tableValues="1.000 0.871 0.745 0.627 1.000 0.871 0.745 0.627 0.667 0.431 0.235 0.063 0.667 0.431 0.235 0.063 0.667 0.431 0.235 0.063"/></feComponentTransfer></filter><filter id="q6" filterUnits="userSpaceOnUse" x="-16" y="-16" width="544.3" height="297.6" color-interpolation-filters="sRGB"><feGaussianBlur in="SourceGraphic" stdDeviation="1.6" result="b"/><feTurbulence type="fractalNoise" baseFrequency="0.035 0.028" numOctaves="2" seed="41" result="w"/><feDisplacementMap in="b" in2="w" scale="34" xChannelSelector="R" yChannelSelector="G" result="d"/><feTurbulence type="fractalNoise" baseFrequency="0.14 0.112" numOctaves="3" seed="45" result="t"/><feColorMatrix in="t" type="matrix" values="1 0 0 0 0 1 0 0 0 0 1 0 0 0 0 0 0 0 0 1" result="n"/><feComposite in="d" in2="n" operator="arithmetic" k1="0" k2="1" k3="0.42" k4="-0.210" result="s"/><feComponentTransfer in="s"><feFuncR type="discrete" tableValues="0.725 0.510 0.314 0.157 0.667 0.431 0.235 0.063 0.882 0.706 0.569 0.439 1.000 0.871 0.745 0.627 1.000 0.871 0.745 0.627"/><feFuncG type="discrete" tableValues="0.667 0.431 0.235 0.063 0.882 0.706 0.569 0.439 1.000 0.871 0.745 0.627 0.831 0.647 0.490 0.345 0.667 0.431 0.235 0.063"/><feFuncB type="discrete" tableValues="1.000 0.871 0.745 0.627 1.000 0.871 0.745 0.627 0.667 0.431 0.235 0.063 0.667 0.431 0.235 0.063 0.667 0.431 0.235 0.063"/></feComponentTransfer></filter><filter id="q7" filterUnits="userSpaceOnUse" x="-16" y="-16" width="544.3" height="297.6" color-interpolation-filters="sRGB"><feGaussianBlur in="SourceGraphic" stdDeviation="1.6" result="b"/><feTurbulence type="fractalNoise" baseFrequency="0.035 0.028" numOctaves="2" seed="46" result="w"/><feDisplacementMap in="b" in2="w" scale="34" xChannelSelector="R" yChannelSelector="G" result="d"/><feTurbulence type="fractalNoise" baseFrequency="0.14 0.112" numOctaves="3" seed="52" result="t"/><feColorMatrix in="t" type="matrix" values="1 0 0 0 0 1 0 0 0 0 1 0 0 0 0 0 0 0 0 1" result="n"/><feComposite in="d" in2="n" operator="arithmetic" k1="0" k2="1" k3="0.42" k4="-0.210" result="s"/><feComponentTransfer in="s"><feFuncR type="discrete" tableValues="0.725 0.510 0.314 0.157 0.667 0.431 0.235 0.063 0.882 0.706 0.569 0.439 1.000 0.871 0.745 0.627 1.000 0.871 0.745 0.627"/><feFuncG type="discrete" tableValues="0.667 0.431 0.235 0.063 0.882 0.706 0.569 0.439 1.000 0.871 0.745 0.627 0.831 0.647 0.490 0.345 0.667 0.431 0.235 0.063"/><feFuncB type="discrete" tableValues="1.000 0.871 0.745 0.627 1.000 0.871 0.745 0.627 0.667 0.431 0.235 0.063 0.667 0.431 0.235 0.063 0.667 0.431 0.235 0.063"/></feComponentTransfer></filter><filter id="q8" filterUnits="userSpaceOnUse" x="-16" y="-16" width="544.3" height="297.6" color-interpolation-filters="sRGB"><feGaussianBlur in="SourceGraphic" stdDeviation="1.6" result="b"/><feTurbulence type="fractalNoise" baseFrequency="0.035 0.028" numOctaves="2" seed="51" result="w"/><feDisplacementMap in="b" in2="w" scale="34" xChannelSelector="R" yChannelSelector="G" result="d"/><feTurbulence type="fractalNoise" baseFrequency="0.14 0.112" numOctaves="3" seed="59" result="t"/><feColorMatrix in="t" type="matrix" values="1 0 0 0 0 1 0 0 0 0 1 0 0 0 0 0 0 0 0 1" result="n"/><feComposite in="d" in2="n" operator="arithmetic" k1="0" k2="1" k3="0.42" k4="-0.210" result="s"/><feComponentTransfer in="s"><feFuncR type="discrete" tableValues="0.725 0.510 0.314 0.157 0.667 0.431 0.235 0.063 0.882 0.706 0.569 0.439 1.000 0.871 0.745 0.627 1.000 0.871 0.745 0.627"/><feFuncG type="discrete" tableValues="0.667 0.431 0.235 0.063 0.882 0.706 0.569 0.439 1.000 0.871 0.745 0.627 0.831 0.647 0.490 0.345 0.667 0.431 0.235 0.063"/><feFuncB type="discrete" tableValues="1.000 0.871 0.745 0.627 1.000 0.871 0.745 0.627 0.667 0.431 0.235 0.063 0.667 0.431 0.235 0.063 0.667 0.431 0.235 0.063"/></feComponentTransfer></filter><filter id="q9" filterUnits="userSpaceOnUse" x="-16" y="-16" width="544.3" height="297.6" color-interpolation-filters="sRGB"><feGaussianBlur in="SourceGraphic" stdDeviation="2.0" result="b"/><feTurbulence type="fractalNoise" baseFrequency="0.035 0.028" numOctaves="2" seed="56" result="w"/><feDisplacementMap in="b" in2="w" scale="34" xChannelSelector="R" yChannelSelector="G" result="d"/><feTurbulence type="fractalNoise" baseFrequency="0.09 0.072" numOctaves="3" seed="66" result="t"/><feColorMatrix in="t" type="matrix" values="1 0 0 0 0 1 0 0 0 0 1 0 0 0 0 0 0 0 0 1" result="n"/><feComposite in="d" in2="n" operator="arithmetic" k1="0" k2="1" k3="0.3" k4="-0.150" result="s"/><feComponentTransfer in="s"><feFuncR type="discrete" tableValues="0.725 0.510 0.314 0.157 0.667 0.431 0.235 0.063 0.882 0.706 0.569 0.439 1.000 0.871 0.745 0.627 1.000 0.871 0.745 0.627"/><feFuncG type="discrete" tableValues="0.667 0.431 0.235 0.063 0.882 0.706 0.569 0.439 1.000 0.871 0.745 0.627 0.831 0.647 0.490 0.345 0.667 0.431 0.235 0.063"/><feFuncB type="discrete" tableValues="1.000 0.871 0.745 0.627 1.000 0.871 0.745 0.627 0.667 0.431 0.235 0.063 0.667 0.431 0.235 0.063 0.667 0.431 0.235 0.063"/></feComponentTransfer></filter></defs>
<rect width="2295" height="1509" fill="#fff"/>
<g id="p0">
<path d="M163.9 91.6V357.2M249.3 91.6V357.2M334.6 91.6V357.2M420 91.6V357.2M505.4 91.6V357.2M79.5 118.2H591.8M79.5 171.3H591.8M79.5 224.4H591.8M79.5 277.5H591.8M79.5 330.6H591.8" stroke="#d9d9d9" stroke-width="1" fill="none"/>
<g transform="translate(79.5,91.6)"><g mask="url(#ocean)"><g filter="url(#q0)"><g filter="url(#bl)"><path fill="#808080" d="M-21.8 -21.9H535.9V290.4H-21.8Z"/><path fill="#4f4f4f" d="M-21.8 111.9L179 111.9L179 178.9L-21.8 178.9Z"/><path fill="#5c5c5c" d="M-21.8 219L125.4 219L125.4 290.4L-21.8 290.4Z"/><ellipse fill="#3d3d3d" cx="7.2" cy="125.3" rx="10" ry="11.2"/><ellipse fill="#404040" cx="8.3" cy="161" rx="11.2" ry="13.4"/><ellipse fill="#808080" cx="9.4" cy="201.2" rx="15.6" ry="20.1"/><ellipse fill="#474747" cx="30.6" cy="245.8" rx="13.4" ry="17.8"/><ellipse fill="#474747" cx="67.4" cy="245.8" rx="26.8" ry="20.1"/><ellipse fill="#808080" cx="48.5" cy="250.2" rx="11.2" ry="11.2"/><ellipse fill="#808080" cx="74.1" cy="210.1" rx="24.5" ry="11.2"/><ellipse fill="#4f4f4f" cx="71.9" cy="134.2" rx="15.6" ry="33.5"/><ellipse fill="#4f4f4f" cx="89.7" cy="98.5" rx="17.8" ry="29"/><ellipse fill="#3d3d3d" cx="124.3" cy="100.8" rx="15.6" ry="26.8"/><path fill="#828282" d="M97.5 140.9L123.2 128.7L136.6 140.9L125.4 156.5L114.3 165.5L98.7 156.5Z"/><path fill="#4f4f4f" d="M85.3 158.8L98.7 158.8L114.3 167.7L127.7 158.8L136.6 143.2L156.7 154.3L166.7 158.8L152.2 176.6L123.2 181.1L98.7 176.6L85.3 169.9Z"/><ellipse fill="#454545" cx="139.9" cy="156.5" rx="13.4" ry="10"/><path fill="#808080" d="M71.9 178.9L143.3 178.9L143.3 221.2L71.9 221.2Z"/><path fill="#808080" d="M123.2 216.8L219.1 216.8L219.1 290.4L123.2 290.4Z"/><ellipse fill="#474747" cx="106.5" cy="242.4" rx="15.6" ry="21.2"/><path fill="#808080" d="M174.5 -21.9L252.6 -21.9L252.6 65.1L174.5 65.1Z"/><path fill="#bfbfbf" d="M174.5 67.3L223.6 60.6L250.4 56.2L357.4 56.2L366.4 96.3L348.5 125.3L250.4 125.3L237 116.4L174.5 116.4Z"/><path fill="#bfbfbf" d="M250.4 0.4L335.1 0.4L341.8 56.2L250.4 58.4Z"/><path fill="#d6d6d6" d="M263.8 12.7L297.2 9.3L312.8 3.7L324 13.8L319.5 30.5L301.7 40.6L286.1 38.3L266 26.1Z"/><ellipse fill="#d6d6d6" cx="272.7" cy="82.9" rx="30.1" ry="22.3"/><path fill="#808080" d="M341.8 51.7L361.9 74L386.5 107.5L377.5 120.9L353 105.2L335.1 74Z"/><ellipse fill="#4c4c4c" cx="357.4" cy="138.7" rx="49.1" ry="17.8"/><path fill="#272727" d="M330.7 134.2L348.5 128.7L368.6 129.8L393.1 128.7L395.4 145.4L379.8 148.7L366.4 143.2L348.5 136.5L330.7 138.7Z"/><path fill="#808080" d="M190.1 111.9L241.4 111.9L241.4 120.9L212.4 138.7L192.4 125.3Z"/><path fill="#bfbfbf" d="M223.6 156.5L299.4 156.5L299.4 236.8L223.6 236.8Z"/><path fill="#bfbfbf" d="M234.7 134.2L252.6 134.2L252.6 245.8L234.7 245.8Z"/><path fill="#bfbfbf" d="M257.1 156.5L402.1 156.5L402.1 178.9L257.1 178.9Z"/><ellipse fill="#d6d6d6" cx="357.4" cy="178.9" rx="24.5" ry="10"/><path fill="#9e9e9e" d="M297.2 190L402.1 190L402.1 243.5L297.2 243.5Z"/><ellipse fill="#b5b5b5" cx="368.6" cy="223.5" rx="13.4" ry="15.6"/><path fill="#808080" d="M219.1 241.3L424.4 241.3L424.4 290.4L219.1 290.4Z"/><path fill="#808080" d="M406.5 -21.9L535.9 -21.9L535.9 100.8L406.5 100.8Z"/><ellipse fill="#bfbfbf" cx="482.4" cy="20.5" rx="13.4" ry="20.1"/><path fill="#4c4c4c" d="M419.9 89.6L535.9 89.6L535.9 167.7L419.9 167.7Z"/><path fill="#808080" d="M446.7 167.7L535.9 167.7L535.9 290.4L446.7 290.4Z"/></g><ellipse fill="#282828" cx="3.8" cy="140.9" rx="5.6" ry="7.8"/><ellipse fill="#787878" cx="7.2" cy="173.3" rx="5.6" ry="5.6"/><ellipse fill="#a6a6a6" cx="6.1" cy="240.2" rx="5.6" ry="15.6"/><ellipse fill="#2a2a2a" cx="16.6" cy="223.5" rx="4" ry="4"/><ellipse fill="#808080" cx="15" cy="248" rx="6.7" ry="13.4"/><ellipse fill="#a3a3a3" cx="44" cy="256.9" rx="4.5" ry="4.5"/><ellipse fill="#282828" cx="69.7" cy="234.6" rx="2.7" ry="2.7"/><ellipse fill="#272727" cx="86.4" cy="254.7" rx="2.2" ry="5.6"/><ellipse fill="#4c4c4c" cx="56.3" cy="183.3" rx="5.6" ry="5.6"/><ellipse fill="#525252" cx="58.5" cy="202.3" rx="5.6" ry="4.5"/><ellipse fill="#808080" cx="78.6" cy="138.7" rx="8.9" ry="17.8"/><ellipse fill="#696969" cx="79" cy="143.2" rx="2.7" ry="7.8"/><ellipse fill="#757575" cx="87.5" cy="85.2" rx="4.5" ry="12.3"/><ellipse fill="#272727" cx="98" cy="109.7" rx="4.9" ry="14.5"/><ellipse fill="#282828" cx="93.1" cy="98.5" rx="2.7" ry="2.7"/><ellipse fill="#252525" cx="123.2" cy="91.9" rx="6.7" ry="10.7"/><ellipse fill="#272727" cx="116.5" cy="119.7" rx="8.9" ry="4.9"/><ellipse fill="#6e6e6e" cx="106.5" cy="147.6" rx="4.9" ry="6.7"/><ellipse fill="#272727" cx="135.5" cy="165.5" rx="4" ry="3.3"/><ellipse fill="#a8a8a8" cx="89.7" cy="192.2" rx="7.8" ry="7.8"/><ellipse fill="#ababab" cx="89.7" cy="207.8" rx="8.9" ry="7.8"/><ellipse fill="#a6a6a6" cx="113.2" cy="193.4" rx="6.7" ry="5.6"/><path fill="none" stroke="#bfbfbf" stroke-width="8.5" stroke-linecap="round" stroke-linejoin="round" d="M171.2 164.4L141 204.5"/><ellipse fill="#d6d6d6" cx="152.2" cy="206.7" rx="6.2" ry="8.9"/><ellipse fill="#bababa" cx="138.8" cy="202.3" rx="5.6" ry="6.7"/><ellipse fill="#ababab" cx="138.8" cy="229" rx="5.6" ry="8.9"/><ellipse fill="#ababab" cx="156.7" cy="235.7" rx="6.7" ry="8.9"/><ellipse fill="#a3a3a3" cx="172.3" cy="241.3" rx="4.5" ry="4.5"/><ellipse fill="#4c4c4c" cx="127.7" cy="212.3" rx="5.6" ry="4.5"/><ellipse fill="#4c4c4c" cx="150" cy="223.5" rx="5.6" ry="2.7"/><ellipse fill="#282828" cx="109.8" cy="229" rx="2.7" ry="2.7"/><ellipse fill="#383838" cx="95.3" cy="260.3" rx="10" ry="6.7"/><ellipse fill="#4c4c4c" cx="185.7" cy="245.8" rx="8.9" ry="6.7"/><ellipse fill="#4c4c4c" cx="201.3" cy="252.5" rx="4.5" ry="4.5"/><ellipse fill="#4c4c4c" cx="237" cy="9.3" rx="11.2" ry="7.8"/><ellipse fill="#4c4c4c" cx="243.7" cy="36.1" rx="13.4" ry="8.9"/><ellipse fill="#2b2b2b" cx="232.5" cy="33.9" rx="2.7" ry="2.7"/><ellipse fill="#474747" cx="199.1" cy="42.8" rx="6.7" ry="8.9"/><ellipse fill="#525252" cx="190.1" cy="56.2" rx="5.6" ry="5.6"/><ellipse fill="#a6a6a6" cx="214.7" cy="46.1" rx="4" ry="4"/><ellipse fill="#808080" cx="205.7" cy="94.1" rx="3.3" ry="10"/><ellipse fill="#a1a1a1" cx="183.4" cy="89.6" rx="4.5" ry="4.5"/><ellipse fill="#d1d1d1" cx="234.7" cy="85.2" rx="5.6" ry="7.8"/><ellipse fill="#c7c7c7" cx="196.8" cy="76.2" rx="6.7" ry="6.7"/><ellipse fill="#dedede" cx="310.6" cy="22.7" rx="6.7" ry="11.2"/><ellipse fill="#d6d6d6" cx="330.7" cy="53.9" rx="7.1" ry="12.3" transform="rotate(-30 330.7 53.9)"/><ellipse fill="#4c4c4c" cx="332.5" cy="13.8" rx="3.1" ry="8.9"/><ellipse fill="#707070" cx="268.2" cy="53.9" rx="15.6" ry="3.1"/><ellipse fill="#4c4c4c" cx="257.1" cy="56.2" rx="4.5" ry="2.2"/><ellipse fill="#dedede" cx="257.1" cy="76.2" rx="6.7" ry="6.7"/><ellipse fill="#dedede" cx="297.2" cy="67.3" rx="5.6" ry="5.6"/><ellipse fill="#d6d6d6" cx="312.8" cy="74" rx="5.6" ry="11.2"/><ellipse fill="#808080" cx="312.8" cy="107.5" rx="4.5" ry="4.5"/><ellipse fill="#d1d1d1" cx="290.5" cy="109.7" rx="6.7" ry="4.5"/><ellipse fill="#cccccc" cx="268.2" cy="127.5" rx="4.5" ry="4.5"/><ellipse fill="#4c4c4c" cx="379.8" cy="105.2" rx="11.2" ry="8.9"/><ellipse fill="#2a2a2a" cx="379.8" cy="105.2" rx="4.9" ry="3.3"/><ellipse fill="#808080" cx="389.8" cy="122" rx="5.6" ry="4.5"/><ellipse fill="#808080" cx="290.5" cy="138.7" rx="26.8" ry="8.9"/><ellipse fill="#525252" cx="290.5" cy="143.2" rx="2.7" ry="6.7"/><ellipse fill="#4c4c4c" cx="221.4" cy="127.5" rx="17.8" ry="7.1" transform="rotate(-25 221.4 127.5)"/><ellipse fill="#808080" cx="254.8" cy="127.5" rx="3.3" ry="15.6"/><ellipse fill="#d6d6d6" cx="263.8" cy="205.6" rx="8.9" ry="15.6"/><ellipse fill="#808080" cx="279.4" cy="190" rx="4" ry="4"/><ellipse fill="#808080" cx="290.5" cy="192.2" rx="4" ry="4"/><ellipse fill="#dedede" cx="357.4" cy="178.9" rx="5.6" ry="5.6"/><ellipse fill="#d1d1d1" cx="393.1" cy="172.2" rx="4.5" ry="4.5"/><ellipse fill="#808080" cx="330.7" cy="185.5" rx="11.2" ry="5.6"/><ellipse fill="#808080" cx="312.8" cy="210.1" rx="13.4" ry="6.7"/><ellipse fill="#b0b0b0" cx="339.6" cy="225.7" rx="8.9" ry="11.2"/><ellipse fill="#b0b0b0" cx="308.4" cy="223.5" rx="8.9" ry="8.9"/><ellipse fill="#808080" cx="390.9" cy="201.2" rx="8.9" ry="17.8"/><ellipse fill="#4c4c4c" cx="279.4" cy="243.5" rx="4.5" ry="4.5"/><ellipse fill="#4c4c4c" cx="297.2" cy="236.8" rx="3.3" ry="6.7"/><ellipse fill="#a8a8a8" cx="368.6" cy="261.4" rx="11.2" ry="4.5"/><ellipse fill="#a8a8a8" cx="223.6" cy="256.9" rx="8.9" ry="6.7"/><ellipse fill="#bababa" cx="228.1" cy="234.6" rx="8.9" ry="13.4"/><ellipse fill="#bfbfbf" cx="223.6" cy="201.2" rx="7.8" ry="22.3"/><ellipse fill="#4c4c4c" cx="404.3" cy="223.5" rx="3.3" ry="17.8"/><ellipse fill="#525252" cx="402.1" cy="183.3" rx="3.1" ry="11.2"/><ellipse fill="#bfbfbf" cx="428.8" cy="56.2" rx="8.9" ry="15.6"/><ellipse fill="#bfbfbf" cx="437.8" cy="65.1" rx="6.7" ry="11.2"/><ellipse fill="#bababa" cx="471.2" cy="67.3" rx="7.8" ry="20.1"/><ellipse fill="#d1d1d1" cx="469" cy="60.6" rx="4" ry="8.9"/><ellipse fill="#525252" cx="455.6" cy="7.1" rx="8.9" ry="5.6"/><ellipse fill="#474747" cx="413.2" cy="42.8" rx="4.5" ry="13.4"/><ellipse fill="#474747" cx="435.5" cy="31.6" rx="3.3" ry="6.7"/><ellipse fill="#474747" cx="464.5" cy="45" rx="5.6" ry="4.5"/><ellipse fill="#a3a3a3" cx="446.7" cy="24.9" rx="3.3" ry="3.3"/><ellipse fill="#a3a3a3" cx="453.4" cy="36.1" rx="3.3" ry="3.3"/><ellipse fill="#272727" cx="473.5" cy="138.7" rx="15.6" ry="5.6"/><ellipse fill="#282828" cx="506.9" cy="138.7" rx="6.7" ry="5.6"/><ellipse fill="#282828" cx="444.5" cy="89.6" rx="2.7" ry="2.7"/><ellipse fill="#282828" cx="448.9" cy="116.4" rx="2.7" ry="5.6"/><ellipse fill="#808080" cx="464.5" cy="120.9" rx="7.8" ry="6.7"/><ellipse fill="#808080" cx="498" cy="154.3" rx="6.7" ry="11.2"/><ellipse fill="#9e9e9e" cx="498" cy="152.1" rx="2.2" ry="4.5"/><ellipse fill="#a1a1a1" cx="486.8" cy="183.3" rx="24.5" ry="4.5"/><ellipse fill="#474747" cx="466.8" cy="205.6" rx="4.5" ry="13.4"/><ellipse fill="#4c4c4c" cx="506.9" cy="201.2" rx="4.5" ry="11.2"/><ellipse fill="#454545" cx="442.2" cy="236.8" rx="7.8" ry="15.6"/><ellipse fill="#4c4c4c" cx="437.8" cy="254.7" rx="6.7" ry="8.9"/><ellipse fill="#474747" cx="502.5" cy="225.7" rx="3.3" ry="3.3"/><ellipse fill="#a6a6a6" cx="480.2" cy="232.4" rx="11.2" ry="5.6"/><ellipse fill="#a6a6a6" cx="489.1" cy="245.8" rx="8.9" ry="6.7"/><ellipse fill="#b8b8b8" cx="509.6" cy="234.6" rx="3.3" ry="8.9"/></g></g><g clip-path="url(#fr)"><use href="#land" fill="none" stroke="#a9a9a9" stroke-width="2" stroke-linejoin="round"/><use href="#lakes" fill="none" stroke="#a9a9a9" stroke-width="1.8" stroke-linejoin="round"/></g></g>
<path d="M79.5 85.1V91.6M79.5 357.2V363.7M163.9 85.1V91.6M163.9 357.2V363.7M249.3 85.1V91.6M249.3 357.2V363.7M334.6 85.1V91.6M334.6 357.2V363.7M420 85.1V91.6M420 357.2V363.7M505.4 85.1V91.6M505.4 357.2V363.7M591.8 85.1V91.6M591.8 357.2V363.7M72 118.2H79.5M591.8 118.2H599.3M72 171.3H79.5M591.8 171.3H599.3M72 224.4H79.5M591.8 224.4H599.3M72 277.5H79.5M591.8 277.5H599.3M72 330.6H79.5M591.8 330.6H599.3" stroke="#262626" stroke-width="1.6" fill="none"/><rect x="79.5" y="91.6" width="512.3" height="265.6" fill="none" stroke="#262626" stroke-width="1.7"/><g font-size="27" fill="#3a3a3a"><text x="78.5" y="400" text-anchor="middle">0E</text><text x="163.9" y="400" text-anchor="middle">60E</text><text x="249.3" y="400" text-anchor="middle">120E</text><text x="334.6" y="400" text-anchor="middle">180E</text><text x="420" y="400" text-anchor="middle">120W</text><text x="505.4" y="400" text-anchor="middle">60W</text><text x="590.8" y="400" text-anchor="middle">0W</text><text x="62.3" y="128" text-anchor="end">40N</text><text x="62.3" y="181.1" text-anchor="end">20N</text><text x="62.3" y="234.2" text-anchor="end">0</text><text x="62.3" y="287.3" text-anchor="end">20S</text><text x="62.3" y="340.4" text-anchor="end">40S</text></g><rect x="633.3" y="343.9" width="45.8" height="13.8" fill="rgb(185,170,255)"/><rect x="633.3" y="330.6" width="45.8" height="13.8" fill="rgb(130,110,222)"/><rect x="633.3" y="317.4" width="45.8" height="13.8" fill="rgb(80,60,190)"/><rect x="633.3" y="304.1" width="45.8" height="13.8" fill="rgb(40,16,160)"/><rect x="633.3" y="290.8" width="45.8" height="13.8" fill="rgb(170,225,255)"/><rect x="633.3" y="277.5" width="45.8" height="13.8" fill="rgb(110,180,222)"/><rect x="633.3" y="264.2" width="45.8" height="13.8" fill="rgb(60,145,190)"/><rect x="633.3" y="251" width="45.8" height="13.8" fill="rgb(16,112,160)"/><rect x="633.3" y="237.7" width="45.8" height="13.8" fill="rgb(225,255,170)"/><rect x="633.3" y="224.4" width="45.8" height="13.8" fill="rgb(180,222,110)"/><rect x="633.3" y="211.1" width="45.8" height="13.8" fill="rgb(145,190,60)"/><rect x="633.3" y="197.8" width="45.8" height="13.8" fill="rgb(112,160,16)"/><rect x="633.3" y="184.6" width="45.8" height="13.8" fill="rgb(255,212,170)"/><rect x="633.3" y="171.3" width="45.8" height="13.8" fill="rgb(222,165,110)"/><rect x="633.3" y="158" width="45.8" height="13.8" fill="rgb(190,125,60)"/><rect x="633.3" y="144.7" width="45.8" height="13.8" fill="rgb(160,88,16)"/><rect x="633.3" y="131.4" width="45.8" height="13.8" fill="rgb(255,170,170)"/><rect x="633.3" y="118.2" width="45.8" height="13.8" fill="rgb(222,110,110)"/><rect x="633.3" y="104.9" width="45.8" height="13.8" fill="rgb(190,60,60)"/><rect x="633.3" y="91.6" width="45.8" height="13.8" fill="rgb(160,16,16)"/><rect x="633.3" y="91.6" width="45.8" height="265.6" fill="none" stroke="#262626" stroke-width="1.5"/><path d="M674.1 224.4h5" stroke="#262626" stroke-width="1.2"/><g font-size="21.5" fill="#3a3a3a"><text x="689.6" y="100.3">100</text><text x="689.6" y="233.1">50</text><text x="689.6" y="365.9">0</text></g><text x="31.5" y="39.8" font-size="30.2" fill="#111" word-spacing="0.3">(a) Ratio of interannual SSS to total variance</text><text x="40.5" y="78.2" font-size="30" fill="#111">derived from EN4</text>
</g>
<g id="p1">
<path d="M938.1 91.6V357.2M1023.5 91.6V357.2M1108.8 91.6V357.2M1194.1 91.6V357.2M1279.5 91.6V357.2M853.8 118.2H1365.8M853.8 171.3H1365.8M853.8 224.4H1365.8M853.8 277.5H1365.8M853.8 330.6H1365.8" stroke="#d9d9d9" stroke-width="1" fill="none"/>
<g transform="translate(853.8,91.6) scale(0.99941,1)"><g mask="url(#ocean)"><g filter="url(#q1)"><g filter="url(#bl)"><path fill="#4c4c4c" d="M-22.1 -21.9H535.6V290.4H-22.1Z"/><ellipse fill="#424242" cx="9.1" cy="201.2" rx="11.2" ry="22.3"/><ellipse fill="#222222" cx="9.1" cy="252.5" rx="15.6" ry="15.6"/><path fill="#1d1d1d" d="M13.6 236.8L56 227.9L100.6 221.2L116.2 232.4L134.1 243.5L160.8 245.8L214.4 250.2L214.4 279.2L13.6 279.2Z"/><ellipse fill="#1f1f1f" cx="93.9" cy="99.7" rx="10.7" ry="25.7"/><ellipse fill="#454545" cx="111.7" cy="156.5" rx="26.8" ry="22.3"/><ellipse fill="#808080" cx="91.7" cy="201.2" rx="12.3" ry="20.1"/><ellipse fill="#808080" cx="154.1" cy="194.5" rx="11.2" ry="24.5"/><ellipse fill="#7a7a7a" cx="265.7" cy="13.8" rx="11.2" ry="11.2"/><path fill="#b8b8b8" d="M274.6 7.1L296.9 2.6L321.5 4.9L328.1 22.7L341.5 49.5L343.8 65.1L330.4 62.9L312.5 49.5L292.5 45L281.3 29.4Z"/><path fill="#808080" d="M187.6 51.7L223.3 51.7L234.4 67.3L227.8 125.3L201 125.3L187.6 116.4Z"/><ellipse fill="#b8b8b8" cx="190.9" cy="86.3" rx="15.2" ry="23.4"/><path fill="#b8b8b8" d="M247.8 67.3L279.1 62.9L296.9 74L312.5 107.5L312.5 125.3L290.2 134.2L274.6 138.7L270.1 116.4L247.8 94.1Z"/><path fill="#808080" d="M312.5 67.3L348.2 67.3L370.5 94.1L368.3 125.3L312.5 125.3Z"/><path fill="#1f1f1f" d="M321.5 138.7L348.2 129.8L379.5 125.3L392.8 134.2L388.4 152.1L357.1 154.3L334.8 149.9L321.5 145.4Z"/><ellipse fill="#7a7a7a" cx="241.1" cy="138.7" rx="24.5" ry="13.4"/><ellipse fill="#4c4c4c" cx="223.3" cy="125.3" rx="12.3" ry="10"/><ellipse fill="#4c4c4c" cx="261.2" cy="125.3" rx="10" ry="12.3"/><path fill="#b2b2b2" d="M279.1 169.9L312.5 165.5L348.2 163.2L397.3 167.7L397.3 181.1L366.1 185.5L334.8 183.3L308.1 178.9L281.3 176.6Z"/><path fill="#808080" d="M214.4 161L279.1 161L279.1 223.5L267.9 245.8L245.6 265.4L214.4 265.4Z"/><ellipse fill="#b8b8b8" cx="256.8" cy="207.8" rx="15.6" ry="17.8"/><ellipse fill="#b2b2b2" cx="225.5" cy="223.5" rx="11.2" ry="22.3"/><ellipse fill="#1b1b1b" cx="296.9" cy="219" rx="13.4" ry="24.5"/><ellipse fill="#1b1b1b" cx="366.1" cy="207.8" rx="13.4" ry="13.4"/><path fill="#7a7a7a" d="M406.2 22.7L424.1 0.4L512.2 0.4L512.2 78.5L424.1 78.5Z"/><ellipse fill="#a8a8a8" cx="484.3" cy="16" rx="15.6" ry="13.4"/><ellipse fill="#1f1f1f" cx="445.3" cy="100.8" rx="17.8" ry="13.4"/><ellipse fill="#1f1f1f" cx="468.7" cy="143.2" rx="17.8" ry="14.5"/><ellipse fill="#1f1f1f" cx="479.9" cy="203.4" rx="19" ry="21.2"/></g><ellipse fill="#1f1f1f" cx="4.7" cy="143.2" rx="8.9" ry="17.8"/><ellipse fill="#7a7a7a" cx="3.5" cy="174.4" rx="4.5" ry="4.5"/><ellipse fill="#7a7a7a" cx="140.7" cy="234.6" rx="7.8" ry="7.8"/><ellipse fill="#7a7a7a" cx="165.3" cy="241.3" rx="11.2" ry="7.8"/><ellipse fill="#9e9e9e" cx="169.8" cy="243.5" rx="4" ry="3.1"/><ellipse fill="#474747" cx="192.1" cy="252.5" rx="13.4" ry="8.9"/><ellipse fill="#242424" cx="76.1" cy="114.2" rx="4.5" ry="5.6"/><ellipse fill="#787878" cx="86.1" cy="89.6" rx="3.3" ry="3.3"/><ellipse fill="#1f1f1f" cx="123.6" cy="98.5" rx="8.9" ry="20.1"/><ellipse fill="#242424" cx="114" cy="118.6" rx="6.7" ry="5.6"/><ellipse fill="#7a7a7a" cx="73.8" cy="138.7" rx="5.6" ry="11.2"/><ellipse fill="#7a7a7a" cx="121.8" cy="138.7" rx="6.7" ry="11.2"/><ellipse fill="#242424" cx="125.1" cy="176.6" rx="4.5" ry="4.5"/><ellipse fill="#242424" cx="140.7" cy="147.6" rx="2.7" ry="6.7"/><ellipse fill="#787878" cx="56" cy="219" rx="6.7" ry="4.5"/><ellipse fill="#242424" cx="131.8" cy="198.9" rx="3.3" ry="6.7"/><ellipse fill="#262626" cx="58.2" cy="190" rx="3.1" ry="8.9"/><ellipse fill="#a1a1a1" cx="156.4" cy="185.5" rx="3.3" ry="3.3"/><ellipse fill="#b8b8b8" cx="154.1" cy="207.8" rx="7.8" ry="10"/><ellipse fill="#222222" cx="238.9" cy="33.9" rx="20.1" ry="6.7"/><ellipse fill="#787878" cx="214.4" cy="47.2" rx="8.9" ry="5.6"/><ellipse fill="#787878" cx="263.5" cy="40.6" rx="6.7" ry="6.7"/><ellipse fill="#262626" cx="245.6" cy="57.3" rx="3.3" ry="3.3"/><ellipse fill="#d6d6d6" cx="310.3" cy="13.8" rx="8.9" ry="8.9"/><ellipse fill="#d1d1d1" cx="296.9" cy="16" rx="5.6" ry="5.6"/><ellipse fill="#808080" cx="296.9" cy="48.4" rx="5.6" ry="5.6"/><ellipse fill="#262626" cx="331.5" cy="11.6" rx="2.7" ry="7.8"/><ellipse fill="#d6d6d6" cx="288" cy="78.5" rx="6.7" ry="20.1"/><ellipse fill="#808080" cx="272.4" cy="78.5" rx="5.6" ry="5.6"/><ellipse fill="#b2b2b2" cx="330.4" cy="87.4" rx="8.9" ry="6.7"/><ellipse fill="#a1a1a1" cx="323.7" cy="74" rx="5.6" ry="4.5"/><ellipse fill="#262626" cx="388.4" cy="116.4" rx="4.5" ry="8.9"/><ellipse fill="#808080" cx="294.7" cy="152.1" rx="40.2" ry="8.9"/><ellipse fill="#a6a6a6" cx="243.4" cy="154.3" rx="5.6" ry="20.1"/><ellipse fill="#bdbdbd" cx="348.2" cy="176.6" rx="8.9" ry="5.6"/><ellipse fill="#bdbdbd" cx="386.2" cy="174.4" rx="8.9" ry="5.6"/><ellipse fill="#808080" cx="223.3" cy="254.7" rx="6.7" ry="11.2"/><ellipse fill="#222222" cx="375" cy="223.5" rx="11.2" ry="8.9"/><ellipse fill="#222222" cx="357.1" cy="256.9" rx="22.3" ry="6.7"/><ellipse fill="#787878" cx="339.3" cy="207.8" rx="5.6" ry="13.4"/><ellipse fill="#9e9e9e" cx="339.3" cy="201.2" rx="2.7" ry="5.6"/><ellipse fill="#787878" cx="366.1" cy="236.8" rx="8.9" ry="11.2"/><ellipse fill="#737373" cx="323.7" cy="223.5" rx="5.6" ry="8.9"/><ellipse fill="#242424" cx="305.8" cy="256.9" rx="26.8" ry="8.9"/><ellipse fill="#a1a1a1" cx="424.1" cy="47.2" rx="6.7" ry="8.9"/><ellipse fill="#adadad" cx="441.9" cy="62.9" rx="5.6" ry="7.8"/><ellipse fill="#999999" cx="457.5" cy="36.1" rx="4.5" ry="4.5"/><ellipse fill="#262626" cx="467.6" cy="48.4" rx="3.6" ry="11.2"/><ellipse fill="#474747" cx="448.6" cy="13.8" rx="8.9" ry="8.9"/><ellipse fill="#4c4c4c" cx="412.9" cy="27.2" rx="5.6" ry="8.9"/><ellipse fill="#4c4c4c" cx="475.4" cy="62.9" rx="5.6" ry="8.9"/><ellipse fill="#242424" cx="484.3" cy="116.4" rx="6.7" ry="4.5"/><ellipse fill="#222222" cx="506.6" cy="143.2" rx="6.7" ry="8.9"/><ellipse fill="#242424" cx="473.2" cy="165.5" rx="6.7" ry="8.9"/><ellipse fill="#737373" cx="466.5" cy="123.1" rx="5.6" ry="5.6"/><ellipse fill="#242424" cx="468.7" cy="223.5" rx="7.8" ry="6.7"/><ellipse fill="#222222" cx="450.8" cy="243.5" rx="11.2" ry="8.9"/><ellipse fill="#222222" cx="502.2" cy="256.9" rx="8.9" ry="6.7"/><ellipse fill="#737373" cx="475.4" cy="176.6" rx="4.5" ry="4.5"/><ellipse fill="#787878" cx="506.6" cy="236.8" rx="4.5" ry="4.5"/></g></g><g clip-path="url(#fr)"><use href="#land" fill="none" stroke="#a9a9a9" stroke-width="2" stroke-linejoin="round"/><use href="#lakes" fill="none" stroke="#a9a9a9" stroke-width="1.8" stroke-linejoin="round"/></g></g>
<path d="M853.8 85.1V91.6M853.8 357.2V363.7M938.1 85.1V91.6M938.1 357.2V363.7M1023.5 85.1V91.6M1023.5 357.2V363.7M1108.8 85.1V91.6M1108.8 357.2V363.7M1194.1 85.1V91.6M1194.1 357.2V363.7M1279.5 85.1V91.6M1279.5 357.2V363.7M1365.8 85.1V91.6M1365.8 357.2V363.7M846.3 118.2H853.8M1365.8 118.2H1373.3M846.3 171.3H853.8M1365.8 171.3H1373.3M846.3 224.4H853.8M1365.8 224.4H1373.3M846.3 277.5H853.8M1365.8 277.5H1373.3M846.3 330.6H853.8M1365.8 330.6H1373.3" stroke="#262626" stroke-width="1.6" fill="none"/><rect x="853.8" y="91.6" width="512" height="265.6" fill="none" stroke="#262626" stroke-width="1.7"/><g font-size="27" fill="#3a3a3a"><text x="852.8" y="400" text-anchor="middle">0E</text><text x="938.1" y="400" text-anchor="middle">60E</text><text x="1023.5" y="400" text-anchor="middle">120E</text><text x="1108.8" y="400" text-anchor="middle">180E</text><text x="1194.1" y="400" text-anchor="middle">120W</text><text x="1279.5" y="400" text-anchor="middle">60W</text><text x="1364.8" y="400" text-anchor="middle">0W</text><text x="836.6" y="128" text-anchor="end">40N</text><text x="836.6" y="181.1" text-anchor="end">20N</text><text x="836.6" y="234.2" text-anchor="end">0</text><text x="836.6" y="287.3" text-anchor="end">20S</text><text x="836.6" y="340.4" text-anchor="end">40S</text></g><rect x="1407.3" y="343.9" width="45.8" height="13.8" fill="rgb(185,170,255)"/><rect x="1407.3" y="330.6" width="45.8" height="13.8" fill="rgb(130,110,222)"/><rect x="1407.3" y="317.4" width="45.8" height="13.8" fill="rgb(80,60,190)"/><rect x="1407.3" y="304.1" width="45.8" height="13.8" fill="rgb(40,16,160)"/><rect x="1407.3" y="290.8" width="45.8" height="13.8" fill="rgb(170,225,255)"/><rect x="1407.3" y="277.5" width="45.8" height="13.8" fill="rgb(110,180,222)"/><rect x="1407.3" y="264.2" width="45.8" height="13.8" fill="rgb(60,145,190)"/><rect x="1407.3" y="251" width="45.8" height="13.8" fill="rgb(16,112,160)"/><rect x="1407.3" y="237.7" width="45.8" height="13.8" fill="rgb(225,255,170)"/><rect x="1407.3" y="224.4" width="45.8" height="13.8" fill="rgb(180,222,110)"/><rect x="1407.3" y="211.1" width="45.8" height="13.8" fill="rgb(145,190,60)"/><rect x="1407.3" y="197.8" width="45.8" height="13.8" fill="rgb(112,160,16)"/><rect x="1407.3" y="184.6" width="45.8" height="13.8" fill="rgb(255,212,170)"/><rect x="1407.3" y="171.3" width="45.8" height="13.8" fill="rgb(222,165,110)"/><rect x="1407.3" y="158" width="45.8" height="13.8" fill="rgb(190,125,60)"/><rect x="1407.3" y="144.7" width="45.8" height="13.8" fill="rgb(160,88,16)"/><rect x="1407.3" y="131.4" width="45.8" height="13.8" fill="rgb(255,170,170)"/><rect x="1407.3" y="118.2" width="45.8" height="13.8" fill="rgb(222,110,110)"/><rect x="1407.3" y="104.9" width="45.8" height="13.8" fill="rgb(190,60,60)"/><rect x="1407.3" y="91.6" width="45.8" height="13.8" fill="rgb(160,16,16)"/><rect x="1407.3" y="91.6" width="45.8" height="265.6" fill="none" stroke="#262626" stroke-width="1.5"/><path d="M1448.1 224.4h5" stroke="#262626" stroke-width="1.2"/><g font-size="21.5" fill="#3a3a3a"><text x="1463.6" y="100.3">100</text><text x="1463.6" y="233.1">50</text><text x="1463.6" y="365.9">0</text></g><text x="1108.3" y="79.4" font-size="30" fill="#111" text-anchor="middle">(b) JAMSTEC</text>
</g>
<g id="p2">
<path d="M1711.3 91.6V357.2M1796.9 91.6V357.2M1882.5 91.6V357.2M1968 91.6V357.2M2053.6 91.6V357.2M1626.7 118.2H2140.2M1626.7 171.3H2140.2M1626.7 224.4H2140.2M1626.7 277.5H2140.2M1626.7 330.6H2140.2" stroke="#d9d9d9" stroke-width="1" fill="none"/>
<g transform="translate(1626.7,91.6) scale(1.00234,1)"><g mask="url(#ocean)"><g filter="url(#q2)"><g filter="url(#bl)"><path fill="#4c4c4c" d="M-22.4 -21.9H535.3V290.4H-22.4Z"/><ellipse fill="#5c5c5c" cx="11.1" cy="256.9" rx="13.4" ry="11.2"/><path fill="#5e5e5e" d="M-22.4 252.5H214.1V290.4H-22.4Z"/><path fill="#252525" d="M13.3 232.4L44.5 236.8L89.1 241.3L133.8 245.8L156.1 252.5L156.1 263.6L89.1 259.2L22.2 252.5Z"/><ellipse fill="#404040" cx="124.8" cy="105.2" rx="13.4" ry="20.1"/><path fill="#828282" d="M98.1 143.2L115.9 132L131.5 138.7L127.1 156.5L111.4 167.7L98.1 163.2Z"/><path fill="#828282" d="M69.1 174.4L89.1 165.5L93.6 183.3L111.4 190L107 205.6L89.1 219L73.5 214.5L66.8 196.7Z"/><ellipse fill="#545454" cx="107" cy="178.9" rx="15.6" ry="10"/><ellipse fill="#404040" cx="151.6" cy="167.7" rx="15.6" ry="10"/><ellipse fill="#808080" cx="144.9" cy="190" rx="13.4" ry="13.4"/><ellipse fill="#6e6e6e" cx="185.1" cy="245.8" rx="24.5" ry="17.8"/><path fill="#808080" d="M182.8 56.2L200.7 0.4L334.5 0.4L379.2 67.3L379.2 125.3L182.8 125.3Z"/><path fill="#c7c7c7" d="M269.8 7.1L289.9 2.6L321.2 3.7L323.4 22.7L312.2 29.4L285.5 27.2L272.1 18.2Z"/><ellipse fill="#b8b8b8" cx="316.7" cy="45" rx="11.2" ry="13.4"/><ellipse fill="#737373" cx="356.8" cy="67.3" rx="13.4" ry="33.5"/><path fill="#b8b8b8" d="M176.1 71.8L200.7 67.3L223 69.5L245.3 67.3L245.3 116.4L223 111.9L200.7 116.4L178.4 111.9Z"/><path fill="#bfbfbf" d="M231.9 67.3L301.1 60.6L323.4 67.3L341.2 89.6L339 116.4L312.2 125.3L285.5 125.3L276.5 156.5L256.5 156.5L247.5 125.3L231.9 111.9Z"/><ellipse fill="#d6d6d6" cx="272.1" cy="87.4" rx="29" ry="22.3"/><ellipse fill="#999999" cx="345.7" cy="105.2" rx="20.1" ry="17.8"/><ellipse fill="#4c4c4c" cx="352.4" cy="140.9" rx="49.1" ry="16.7"/><path fill="#242424" d="M326.7 139.8L347.9 129.8L379.2 124.2L391.4 133.1L387 149.9L356.8 155.4L333.4 152.1Z"/><ellipse fill="#808080" cx="211.8" cy="127.5" rx="26.8" ry="11.2"/><path fill="#808080" d="M214.1 156.5H412.6V290.4H214.1Z"/><ellipse fill="#a1a1a1" cx="236.4" cy="152.1" rx="13.4" ry="26.8"/><ellipse fill="#808080" cx="301.1" cy="147.6" rx="22.3" ry="13.4"/><ellipse fill="#bfbfbf" cx="274.3" cy="205.6" rx="17.8" ry="15.6"/><ellipse fill="#b8b8b8" cx="256.5" cy="178.9" rx="11.2" ry="13.4"/><ellipse fill="#b2b2b2" cx="352.4" cy="178.9" rx="20.1" ry="13.4"/><ellipse fill="#9e9e9e" cx="352.4" cy="178.9" rx="31.2" ry="20.1"/><ellipse fill="#b5b5b5" cx="352.4" cy="178.9" rx="20.1" ry="13.4"/><ellipse fill="#a3a3a3" cx="368" cy="234.6" rx="15.6" ry="11.2"/><path fill="#6b6b6b" d="M405.9 22.7L423.8 0.4L511.9 0.4L511.9 78.5L423.8 78.5Z"/><ellipse fill="#808080" cx="419.3" cy="49.5" rx="11.2" ry="15.6"/><ellipse fill="#7a7a7a" cx="479.6" cy="22.7" rx="15.6" ry="13.4"/><ellipse fill="#474747" cx="446.1" cy="22.7" rx="11.2" ry="13.4"/><ellipse fill="#252525" cx="446.1" cy="100.8" rx="15.6" ry="11.2"/></g><ellipse fill="#252525" cx="4.4" cy="143.2" rx="7.8" ry="15.6"/><ellipse fill="#808080" cx="4.4" cy="223.5" rx="6.7" ry="13.4"/><ellipse fill="#282828" cx="86.9" cy="76.2" rx="4.5" ry="8.9"/><ellipse fill="#252525" cx="93.6" cy="105.2" rx="9.4" ry="11.2"/><ellipse fill="#282828" cx="78" cy="114.2" rx="3.3" ry="3.3"/><ellipse fill="#252525" cx="122.2" cy="91.9" rx="7.8" ry="14.5"/><ellipse fill="#272727" cx="111.4" cy="116.4" rx="7.8" ry="6.7"/><ellipse fill="#7a7a7a" cx="71.3" cy="134.2" rx="6.7" ry="13.4"/><ellipse fill="#272727" cx="136" cy="162.1" rx="13.4" ry="4"/><ellipse fill="#bababa" cx="153.8" cy="203.4" rx="6.7" ry="17.8"/><ellipse fill="#9e9e9e" cx="140.4" cy="205.6" rx="6.7" ry="8.9"/><ellipse fill="#757575" cx="160.5" cy="241.3" rx="8.9" ry="6.7"/><ellipse fill="#4c4c4c" cx="240.8" cy="33.9" rx="15.6" ry="8.9"/><ellipse fill="#282828" cx="245.3" cy="36.1" rx="3.3" ry="3.3"/><ellipse fill="#404040" cx="229.7" cy="7.1" rx="6.7" ry="5.6"/><ellipse fill="#525252" cx="274.3" cy="35" rx="8.9" ry="5.6"/><ellipse fill="#a1a1a1" cx="209.6" cy="47.2" rx="3.3" ry="3.3"/><ellipse fill="#a1a1a1" cx="236.4" cy="58.4" rx="4.5" ry="3.3"/><ellipse fill="#dfdfdf" cx="281" cy="17.1" rx="8.9" ry="6.7"/><ellipse fill="#d6d6d6" cx="307.8" cy="16" rx="8.9" ry="8.9"/><ellipse fill="#525252" cx="289.9" cy="54.4" rx="29" ry="2.7"/><path fill="none" stroke="#4f4f4f" stroke-width="5.4" stroke-linecap="round" stroke-linejoin="round" d="M312.2 58.4L347.9 89.6"/><ellipse fill="#4c4c4c" cx="368" cy="78.5" rx="6.2" ry="17.8"/><ellipse fill="#808080" cx="196.2" cy="91.9" rx="6.7" ry="8.9"/><ellipse fill="#808080" cx="211.8" cy="85.2" rx="3.3" ry="11.2"/><ellipse fill="#c2c2c2" cx="269.8" cy="82.9" rx="4.5" ry="4.5"/><ellipse fill="#808080" cx="359.1" cy="109.7" rx="8.9" ry="8.9"/><ellipse fill="#2b2b2b" cx="383.6" cy="105.2" rx="8.9" ry="13.4"/><ellipse fill="#525252" cx="219.6" cy="129.8" rx="5.6" ry="8.9"/><ellipse fill="#a6a6a6" cx="245.3" cy="161" rx="8.9" ry="22.3"/><ellipse fill="#b2b2b2" cx="334.5" cy="203.4" rx="11.2" ry="5.6"/><ellipse fill="#4c4c4c" cx="356.8" cy="201.2" rx="11.2" ry="2.7"/><ellipse fill="#b8b8b8" cx="219.6" cy="234.6" rx="6.7" ry="15.6"/><ellipse fill="#404040" cx="296.6" cy="230.2" rx="8.9" ry="4.5"/><ellipse fill="#4c4c4c" cx="383.6" cy="214.5" rx="5.6" ry="11.2"/><ellipse fill="#525252" cx="278.8" cy="252.5" rx="17.8" ry="8.9"/><ellipse fill="#4c4c4c" cx="403.7" cy="201.2" rx="4.5" ry="33.5"/><ellipse fill="#5c5c5c" cx="334.5" cy="256.9" rx="22.3" ry="6.7"/><ellipse fill="#9e9e9e" cx="419.3" cy="58.4" rx="4.5" ry="4.5"/><ellipse fill="#7a7a7a" cx="468.4" cy="67.3" rx="8.9" ry="8.9"/><ellipse fill="#7a7a7a" cx="498.5" cy="33.9" rx="6.7" ry="22.3"/><ellipse fill="#282828" cx="443.9" cy="24.9" rx="3.3" ry="3.3"/><ellipse fill="#474747" cx="452.8" cy="56.2" rx="6.7" ry="11.2"/><ellipse fill="#282828" cx="457.2" cy="69.5" rx="3.3" ry="6.7"/><ellipse fill="#7a7a7a" cx="463.9" cy="123.1" rx="8.9" ry="6.7"/><ellipse fill="#282828" cx="490.7" cy="111.9" rx="5.6" ry="8.9"/><ellipse fill="#272727" cx="506.3" cy="143.2" rx="6.7" ry="11.2"/><ellipse fill="#2a2a2a" cx="468.4" cy="138.7" rx="5.6" ry="4.5"/><ellipse fill="#3d3d3d" cx="479.6" cy="154.3" rx="11.2" ry="6.7"/><ellipse fill="#757575" cx="468.4" cy="174.4" rx="6.7" ry="8.9"/><ellipse fill="#7a7a7a" cx="472.9" cy="234.6" rx="8.9" ry="8.9"/><ellipse fill="#999999" cx="506.3" cy="241.3" rx="5.6" ry="6.7"/><ellipse fill="#272727" cx="486.2" cy="219" rx="11.2" ry="4.5"/><ellipse fill="#282828" cx="479.6" cy="201.2" rx="3.3" ry="3.3"/><ellipse fill="#272727" cx="459.5" cy="256.9" rx="11.2" ry="5.6"/><ellipse fill="#525252" cx="434.9" cy="245.8" rx="5.6" ry="13.4"/></g></g><g clip-path="url(#fr)"><use href="#land" fill="none" stroke="#a9a9a9" stroke-width="2" stroke-linejoin="round"/><use href="#lakes" fill="none" stroke="#a9a9a9" stroke-width="1.8" stroke-linejoin="round"/></g></g>
<path d="M1626.7 85.1V91.6M1626.7 357.2V363.7M1711.3 85.1V91.6M1711.3 357.2V363.7M1796.9 85.1V91.6M1796.9 357.2V363.7M1882.5 85.1V91.6M1882.5 357.2V363.7M1968 85.1V91.6M1968 357.2V363.7M2053.6 85.1V91.6M2053.6 357.2V363.7M2140.2 85.1V91.6M2140.2 357.2V363.7M1619.2 118.2H1626.7M2140.2 118.2H2147.7M1619.2 171.3H1626.7M2140.2 171.3H2147.7M1619.2 224.4H1626.7M2140.2 224.4H2147.7M1619.2 277.5H1626.7M2140.2 277.5H2147.7M1619.2 330.6H1626.7M2140.2 330.6H2147.7" stroke="#262626" stroke-width="1.6" fill="none"/><rect x="1626.7" y="91.6" width="513.5" height="265.6" fill="none" stroke="#262626" stroke-width="1.7"/><g font-size="27" fill="#3a3a3a"><text x="1625.7" y="400" text-anchor="middle">0E</text><text x="1711.3" y="400" text-anchor="middle">60E</text><text x="1796.9" y="400" text-anchor="middle">120E</text><text x="1882.5" y="400" text-anchor="middle">180E</text><text x="1968" y="400" text-anchor="middle">120W</text><text x="2053.6" y="400" text-anchor="middle">60W</text><text x="2139.2" y="400" text-anchor="middle">0W</text><text x="1609.5" y="128" text-anchor="end">40N</text><text x="1609.5" y="181.1" text-anchor="end">20N</text><text x="1609.5" y="234.2" text-anchor="end">0</text><text x="1609.5" y="287.3" text-anchor="end">20S</text><text x="1609.5" y="340.4" text-anchor="end">40S</text></g><rect x="2181.7" y="343.9" width="45.8" height="13.8" fill="rgb(185,170,255)"/><rect x="2181.7" y="330.6" width="45.8" height="13.8" fill="rgb(130,110,222)"/><rect x="2181.7" y="317.4" width="45.8" height="13.8" fill="rgb(80,60,190)"/><rect x="2181.7" y="304.1" width="45.8" height="13.8" fill="rgb(40,16,160)"/><rect x="2181.7" y="290.8" width="45.8" height="13.8" fill="rgb(170,225,255)"/><rect x="2181.7" y="277.5" width="45.8" height="13.8" fill="rgb(110,180,222)"/><rect x="2181.7" y="264.2" width="45.8" height="13.8" fill="rgb(60,145,190)"/><rect x="2181.7" y="251" width="45.8" height="13.8" fill="rgb(16,112,160)"/><rect x="2181.7" y="237.7" width="45.8" height="13.8" fill="rgb(225,255,170)"/><rect x="2181.7" y="224.4" width="45.8" height="13.8" fill="rgb(180,222,110)"/><rect x="2181.7" y="211.1" width="45.8" height="13.8" fill="rgb(145,190,60)"/><rect x="2181.7" y="197.8" width="45.8" height="13.8" fill="rgb(112,160,16)"/><rect x="2181.7" y="184.6" width="45.8" height="13.8" fill="rgb(255,212,170)"/><rect x="2181.7" y="171.3" width="45.8" height="13.8" fill="rgb(222,165,110)"/><rect x="2181.7" y="158" width="45.8" height="13.8" fill="rgb(190,125,60)"/><rect x="2181.7" y="144.7" width="45.8" height="13.8" fill="rgb(160,88,16)"/><rect x="2181.7" y="131.4" width="45.8" height="13.8" fill="rgb(255,170,170)"/><rect x="2181.7" y="118.2" width="45.8" height="13.8" fill="rgb(222,110,110)"/><rect x="2181.7" y="104.9" width="45.8" height="13.8" fill="rgb(190,60,60)"/><rect x="2181.7" y="91.6" width="45.8" height="13.8" fill="rgb(160,16,16)"/><rect x="2181.7" y="91.6" width="45.8" height="265.6" fill="none" stroke="#262626" stroke-width="1.5"/><path d="M2222.5 224.4h5" stroke="#262626" stroke-width="1.2"/><g font-size="21.5" fill="#3a3a3a"><text x="2238" y="100.3">100</text><text x="2238" y="233.1">50</text><text x="2238" y="365.9">0</text></g><text x="1882" y="79.4" font-size="30" fill="#111" text-anchor="middle">(c) IAP</text>
</g>
<g id="p3">
<path d="M163.9 454.6V720.2M249.3 454.6V720.2M334.6 454.6V720.2M420 454.6V720.2M505.4 454.6V720.2M79.5 481.2H591.8M79.5 534.3H591.8M79.5 587.4H591.8M79.5 640.5H591.8M79.5 693.6H591.8" stroke="#d9d9d9" stroke-width="1" fill="none"/>
<g transform="translate(79.5,454.6)"><g mask="url(#ocean)"><g filter="url(#q3)"><g filter="url(#bl)"><path fill="#808080" d="M-21.8 -21.9H535.9V290.4H-21.8Z"/><path fill="#4c4c4c" d="M56.3 67.3L179 67.3L179 185.5L85.3 185.5L56.3 156.5Z"/><path fill="#474747" d="M-10.7 212.3L125.4 212.3L125.4 279.2L-10.7 279.2Z"/><ellipse fill="#858585" cx="114.3" cy="143.2" rx="15.6" ry="13.4"/><path fill="#808080" d="M67.4 181.1L138.8 185.5L143.3 223.5L67.4 223.5Z"/><ellipse fill="#bababa" cx="145.5" cy="198.9" rx="12.3" ry="16.7"/><ellipse fill="#474747" cx="241.4" cy="33.9" rx="24.5" ry="10"/><path fill="#bdbdbd" d="M252.6 7.1L268.2 0.4L326.2 0.4L339.6 27.2L350.8 67.3L330.7 71.8L308.4 56.2L279.4 38.3L257.1 24.9Z"/><path fill="#d6d6d6" d="M263.8 11.6L281.6 7.1L312.8 7.1L328.4 22.7L341.8 56.2L335.1 65.1L317.3 51.7L301.7 40.6L283.8 29.4L266 22.7Z"/><path fill="#bfbfbf" d="M174.5 71.8L201.3 67.3L223.6 62.9L290.5 56.2L324 67.3L348.5 89.6L366.4 116.4L335.1 134.2L301.7 143.2L290.5 169.9L257.1 174.4L245.9 134.2L237 111.9L208 98.5L201.3 125.3L183.4 125.3Z"/><path fill="#d6d6d6" d="M232.5 76.2L245.9 67.3L268.2 65.1L297.2 58.4L310.6 67.3L312.8 89.6L301.7 116.4L286.1 125.3L268.2 125.3L263.8 107.5L245.9 94.1L232.5 89.6Z"/><path fill="#d6d6d6" d="M321.8 80.7L335.1 85.2L339.6 100.8L330.7 116.4L312.8 125.3L306.1 116.4L312.8 98.5Z"/><ellipse fill="#474747" cx="384.2" cy="120.9" rx="11.2" ry="15.6"/><ellipse fill="#808080" cx="335.1" cy="143.2" rx="40.2" ry="17.8"/><path fill="#474747" d="M317.3 143.2L357.4 125.3L393.1 125.3L397.6 152.1L357.4 156.5L324 152.1Z"/><ellipse fill="#bababa" cx="241.4" cy="178.9" rx="11.2" ry="66.9"/><path fill="#bdbdbd" d="M257.1 156.5L312.8 156.5L357.4 161L397.6 165.5L397.6 178.9L379.8 192.2L335.1 187.8L290.5 178.9L257.1 178.9Z"/><ellipse fill="#d6d6d6" cx="359.7" cy="178.9" rx="24.5" ry="11.2"/><ellipse fill="#bfbfbf" cx="266" cy="205.6" rx="24.5" ry="29"/><ellipse fill="#d6d6d6" cx="266" cy="205.6" rx="17.8" ry="22.3"/><path fill="#a8a8a8" d="M290.5 190L324 196.7L357.4 214.5L375.3 245.8L335.1 241.3L312.8 223.5L290.5 212.3Z"/><ellipse fill="#b8b8b8" cx="484.6" cy="16" rx="13.4" ry="13.4"/><ellipse fill="#bababa" cx="424.4" cy="60.6" rx="20.1" ry="13.4"/><path fill="#4c4c4c" d="M424.4 89.6L535.9 89.6L535.9 145.4L460.1 167.7L442.2 134.2Z"/><ellipse fill="#4c4c4c" cx="482.4" cy="192.2" rx="15.6" ry="22.3"/><path fill="#4c4c4c" d="M431.1 223.5L480.2 223.5L480.2 279.2L431.1 279.2Z"/></g><ellipse fill="#474747" cx="6.1" cy="134.2" rx="8.9" ry="13.4"/><ellipse fill="#272727" cx="6.1" cy="140.9" rx="5.6" ry="8.9"/><ellipse fill="#4c4c4c" cx="7.2" cy="190" rx="5.6" ry="11.2"/><ellipse fill="#272727" cx="34" cy="232.4" rx="4.5" ry="6.7"/><ellipse fill="#7a7a7a" cx="7.2" cy="256.9" rx="8.9" ry="8.9"/><ellipse fill="#808080" cx="56.3" cy="221.2" rx="8.9" ry="6.7"/><ellipse fill="#252525" cx="65.2" cy="236.8" rx="5.6" ry="5.6"/><ellipse fill="#252525" cx="89.7" cy="245.8" rx="4.5" ry="11.2"/><ellipse fill="#272727" cx="107.6" cy="259.2" rx="3.3" ry="3.3"/><ellipse fill="#7a7a7a" cx="45.1" cy="252.5" rx="6.7" ry="6.7"/><ellipse fill="#808080" cx="13.9" cy="212.3" rx="11.2" ry="8.9"/><ellipse fill="#7a7a7a" cx="85.3" cy="89.6" rx="5.6" ry="8.9"/><ellipse fill="#272727" cx="100.9" cy="107.5" rx="2.7" ry="11.2"/><ellipse fill="#272727" cx="112" cy="122" rx="6.7" ry="3.3"/><ellipse fill="#252525" cx="125.4" cy="91.9" rx="6.7" ry="11.2"/><ellipse fill="#808080" cx="74.1" cy="138.7" rx="7.8" ry="15.6"/><ellipse fill="#9e9e9e" cx="77.5" cy="143.2" rx="2.2" ry="4.5"/><ellipse fill="#272727" cx="136.6" cy="169.9" rx="2.2" ry="5.6"/><ellipse fill="#404040" cx="145.5" cy="165.5" rx="11.2" ry="6.7"/><ellipse fill="#a1a1a1" cx="90.9" cy="190" rx="5.6" ry="8.9"/><ellipse fill="#a1a1a1" cx="90.9" cy="207.8" rx="5.6" ry="6.7"/><path fill="none" stroke="#bababa" stroke-width="8.9" stroke-linecap="round" stroke-linejoin="round" d="M170.1 165.5L141 198.9"/><ellipse fill="#d6d6d6" cx="150" cy="207.8" rx="8.9" ry="8.9"/><ellipse fill="#a3a3a3" cx="143.3" cy="232.4" rx="8.9" ry="6.7"/><ellipse fill="#b2b2b2" cx="156.7" cy="241.3" rx="4.5" ry="4.5"/><ellipse fill="#a3a3a3" cx="170.1" cy="243.5" rx="5.6" ry="4.5"/><ellipse fill="#454545" cx="112" cy="223.5" rx="11.2" ry="6.7"/><ellipse fill="#272727" cx="232.5" cy="35" rx="3.3" ry="3.3"/><ellipse fill="#272727" cx="250.4" cy="33.9" rx="3.3" ry="3.3"/><ellipse fill="#4c4c4c" cx="210.2" cy="16" rx="6.7" ry="13.4"/><ellipse fill="#858585" cx="216.9" cy="45" rx="11.2" ry="8.9"/><ellipse fill="#a1a1a1" cx="215.8" cy="46.1" rx="2.7" ry="2.7"/><ellipse fill="#dfdfdf" cx="306.1" cy="22.7" rx="8.9" ry="11.2"/><ellipse fill="#dfdfdf" cx="277.1" cy="17.1" rx="3.3" ry="3.3"/><ellipse fill="#dfdfdf" cx="317.3" cy="47.2" rx="3.3" ry="3.3"/><ellipse fill="#4c4c4c" cx="257.1" cy="53.9" rx="8.9" ry="4.5"/><ellipse fill="#525252" cx="279.4" cy="53.9" rx="4.5" ry="2.2"/><ellipse fill="#dfdfdf" cx="252.6" cy="78.5" rx="6.7" ry="8.9"/><ellipse fill="#dfdfdf" cx="295" cy="67.3" rx="5.6" ry="5.6"/><ellipse fill="#808080" cx="223.6" cy="111.9" rx="13.4" ry="8.9"/><ellipse fill="#4c4c4c" cx="220.2" cy="127.5" rx="8.9" ry="6.7"/><path fill="none" stroke="#808080" stroke-width="11.2" stroke-linecap="round" stroke-linejoin="round" d="M339.6 62.9L375.3 116.4"/><ellipse fill="#272727" cx="366.4" cy="134.2" rx="11.2" ry="5.6"/><ellipse fill="#a1a1a1" cx="223.6" cy="167.7" rx="8.9" ry="22.3"/><ellipse fill="#dfdfdf" cx="357.4" cy="178.9" rx="11.2" ry="5.6"/><ellipse fill="#dfdfdf" cx="266" cy="210.1" rx="4.5" ry="4.5"/><ellipse fill="#bdbdbd" cx="225.8" cy="219" rx="8.9" ry="33.5"/><ellipse fill="#b8b8b8" cx="324" cy="230.2" rx="4.5" ry="4.5"/><ellipse fill="#b8b8b8" cx="357.4" cy="241.3" rx="5.6" ry="4.5"/><ellipse fill="#474747" cx="295" cy="234.6" rx="4.5" ry="8.9"/><ellipse fill="#4c4c4c" cx="346.3" cy="252.5" rx="13.4" ry="5.6"/><ellipse fill="#4c4c4c" cx="279.4" cy="256.9" rx="8.9" ry="5.6"/><ellipse fill="#4c4c4c" cx="405.4" cy="207.8" rx="3.3" ry="13.4"/><ellipse fill="#d1d1d1" cx="424.4" cy="65.1" rx="3.3" ry="3.3"/><ellipse fill="#d1d1d1" cx="435.5" cy="65.1" rx="2.7" ry="2.7"/><ellipse fill="#b8b8b8" cx="471.2" cy="71.8" rx="8.9" ry="20.1"/><ellipse fill="#d1d1d1" cx="473.5" cy="85.2" rx="3.3" ry="8.9"/><ellipse fill="#404040" cx="446.7" cy="16" rx="6.7" ry="8.9"/><ellipse fill="#282828" cx="446.7" cy="13.8" rx="2.7" ry="3.3"/><ellipse fill="#4c4c4c" cx="428.8" cy="33.9" rx="6.7" ry="5.6"/><ellipse fill="#474747" cx="466.8" cy="45" rx="5.6" ry="6.7"/><ellipse fill="#272727" cx="442.2" cy="100.8" rx="3.3" ry="5.6"/><ellipse fill="#272727" cx="489.1" cy="116.4" rx="2.7" ry="5.6"/><ellipse fill="#7a7a7a" cx="466.8" cy="123.1" rx="7.8" ry="5.6"/><ellipse fill="#9e9e9e" cx="500.2" cy="165.5" rx="4.5" ry="8.9"/><ellipse fill="#212121" cx="482.4" cy="192.2" rx="7.8" ry="13.4"/><ellipse fill="#4c4c4c" cx="464.5" cy="212.3" rx="6.7" ry="8.9"/><ellipse fill="#a3a3a3" cx="506.9" cy="239.1" rx="6.7" ry="8.9"/></g></g><g clip-path="url(#fr)"><use href="#land" fill="none" stroke="#a9a9a9" stroke-width="2" stroke-linejoin="round"/><use href="#lakes" fill="none" stroke="#a9a9a9" stroke-width="1.8" stroke-linejoin="round"/></g></g>
<path d="M79.5 448.1V454.6M79.5 720.2V726.7M163.9 448.1V454.6M163.9 720.2V726.7M249.3 448.1V454.6M249.3 720.2V726.7M334.6 448.1V454.6M334.6 720.2V726.7M420 448.1V454.6M420 720.2V726.7M505.4 448.1V454.6M505.4 720.2V726.7M591.8 448.1V454.6M591.8 720.2V726.7M72 481.2H79.5M591.8 481.2H599.3M72 534.3H79.5M591.8 534.3H599.3M72 587.4H79.5M591.8 587.4H599.3M72 640.5H79.5M591.8 640.5H599.3M72 693.6H79.5M591.8 693.6H599.3" stroke="#262626" stroke-width="1.6" fill="none"/><rect x="79.5" y="454.6" width="512.3" height="265.6" fill="none" stroke="#262626" stroke-width="1.7"/><g font-size="27" fill="#3a3a3a"><text x="78.5" y="763" text-anchor="middle">0E</text><text x="163.9" y="763" text-anchor="middle">60E</text><text x="249.3" y="763" text-anchor="middle">120E</text><text x="334.6" y="763" text-anchor="middle">180E</text><text x="420" y="763" text-anchor="middle">120W</text><text x="505.4" y="763" text-anchor="middle">60W</text><text x="590.8" y="763" text-anchor="middle">0W</text><text x="62.3" y="491" text-anchor="end">40N</text><text x="62.3" y="544.1" text-anchor="end">20N</text><text x="62.3" y="597.2" text-anchor="end">0</text><text x="62.3" y="650.3" text-anchor="end">20S</text><text x="62.3" y="703.4" text-anchor="end">40S</text></g><rect x="633.3" y="706.9" width="45.8" height="13.8" fill="rgb(185,170,255)"/><rect x="633.3" y="693.6" width="45.8" height="13.8" fill="rgb(130,110,222)"/><rect x="633.3" y="680.4" width="45.8" height="13.8" fill="rgb(80,60,190)"/><rect x="633.3" y="667.1" width="45.8" height="13.8" fill="rgb(40,16,160)"/><rect x="633.3" y="653.8" width="45.8" height="13.8" fill="rgb(170,225,255)"/><rect x="633.3" y="640.5" width="45.8" height="13.8" fill="rgb(110,180,222)"/><rect x="633.3" y="627.2" width="45.8" height="13.8" fill="rgb(60,145,190)"/><rect x="633.3" y="614" width="45.8" height="13.8" fill="rgb(16,112,160)"/><rect x="633.3" y="600.7" width="45.8" height="13.8" fill="rgb(225,255,170)"/><rect x="633.3" y="587.4" width="45.8" height="13.8" fill="rgb(180,222,110)"/><rect x="633.3" y="574.1" width="45.8" height="13.8" fill="rgb(145,190,60)"/><rect x="633.3" y="560.8" width="45.8" height="13.8" fill="rgb(112,160,16)"/><rect x="633.3" y="547.6" width="45.8" height="13.8" fill="rgb(255,212,170)"/><rect x="633.3" y="534.3" width="45.8" height="13.8" fill="rgb(222,165,110)"/><rect x="633.3" y="521" width="45.8" height="13.8" fill="rgb(190,125,60)"/><rect x="633.3" y="507.7" width="45.8" height="13.8" fill="rgb(160,88,16)"/><rect x="633.3" y="494.4" width="45.8" height="13.8" fill="rgb(255,170,170)"/><rect x="633.3" y="481.2" width="45.8" height="13.8" fill="rgb(222,110,110)"/><rect x="633.3" y="467.9" width="45.8" height="13.8" fill="rgb(190,60,60)"/><rect x="633.3" y="454.6" width="45.8" height="13.8" fill="rgb(160,16,16)"/><rect x="633.3" y="454.6" width="45.8" height="265.6" fill="none" stroke="#262626" stroke-width="1.5"/><path d="M674.1 587.4h5" stroke="#262626" stroke-width="1.2"/><g font-size="21.5" fill="#3a3a3a"><text x="689.6" y="463.3">100</text><text x="689.6" y="596.1">50</text><text x="689.6" y="728.9">0</text></g><text x="334.1" y="442.4" font-size="30" fill="#111" text-anchor="middle">(d) IPRC</text>
</g>
<g id="p4">
<path d="M938.1 454.6V720.2M1023.5 454.6V720.2M1108.8 454.6V720.2M1194.1 454.6V720.2M1279.5 454.6V720.2M853.8 481.2H1365.8M853.8 534.3H1365.8M853.8 587.4H1365.8M853.8 640.5H1365.8M853.8 693.6H1365.8" stroke="#d9d9d9" stroke-width="1" fill="none"/>
<g transform="translate(853.8,454.6) scale(0.99941,1)"><g mask="url(#ocean)"><g filter="url(#q4)"><g filter="url(#bl)"><path fill="#4c4c4c" d="M-22.1 -21.9H535.6V290.4H-22.1Z"/><ellipse fill="#252525" cx="27" cy="243.5" rx="13.4" ry="11.2"/><ellipse fill="#252525" cx="73.8" cy="243.5" rx="13.4" ry="11.2"/><path fill="#666666" d="M122.9 223.5L214.4 223.5L214.4 279.2L122.9 279.2Z"/><ellipse fill="#242424" cx="89.4" cy="105.2" rx="14.5" ry="20.1"/><ellipse fill="#787878" cx="89.4" cy="196.7" rx="15.6" ry="20.1"/><ellipse fill="#808080" cx="156.4" cy="178.9" rx="11.2" ry="13.4"/><ellipse fill="#252525" cx="236.7" cy="36.1" rx="15.6" ry="11.2"/><path fill="#bdbdbd" d="M263.5 9.3L279.1 2.6L321.5 2.6L328.1 22.7L330.4 45L317 51.7L301.4 38.3L281.3 33.9L265.7 22.7Z"/><ellipse fill="#d6d6d6" cx="299.1" cy="18.2" rx="15.6" ry="11.2"/><path fill="#999999" d="M207.7 67.3L236.7 65.1L236.7 116.4L207.7 111.9Z"/><path fill="#bdbdbd" d="M176.4 71.8L201 67.3L207.7 89.6L205.4 111.9L183.1 116.4L178.7 94.1Z"/><path fill="#bdbdbd" d="M236.7 67.3L267.9 62.9L296.9 58.4L330.4 71.8L348.2 89.6L343.8 107.5L321.5 116.4L312.5 134.2L290.2 147.6L272.4 156.5L250.1 152.1L238.9 134.2L245.6 111.9L236.7 94.1Z"/><ellipse fill="#808080" cx="354.9" cy="100.8" rx="11.2" ry="22.3"/><ellipse fill="#808080" cx="303.6" cy="138.7" rx="13.4" ry="11.2"/><ellipse fill="#474747" cx="352.7" cy="138.7" rx="42.4" ry="17.8"/><path fill="#242424" d="M325.9 139.8L348.2 125.3L381.7 123.1L389.5 143.2L381.7 155.4L348.2 155.4L328.1 147.6Z"/><path fill="#8c8c8c" d="M209.9 134.2L281.3 134.2L281.3 190L209.9 190Z"/><ellipse fill="#808080" cx="214.4" cy="127.5" rx="22.3" ry="11.2"/><ellipse fill="#878787" cx="223.3" cy="169.9" rx="11.2" ry="11.2"/><path fill="#bdbdbd" d="M256.8 158.8L301.4 163.2L323.7 161L397.3 161L399.5 178.9L379.5 185.5L334.8 185.5L308.1 176.6L267.9 174.4Z"/><path fill="#808080" d="M214.4 185.5L412.9 185.5L412.9 279.2L214.4 279.2Z"/><ellipse fill="#bdbdbd" cx="256.8" cy="210.1" rx="26.8" ry="13.4"/><ellipse fill="#a1a1a1" cx="357.1" cy="241.3" rx="17.8" ry="11.2"/><path fill="#7a7a7a" d="M406.2 22.7L424.1 0.4L512.2 0.4L512.2 89.6L424.1 89.6Z"/><ellipse fill="#a3a3a3" cx="491" cy="13.8" rx="11.2" ry="11.2"/><ellipse fill="#242424" cx="444.2" cy="100.8" rx="15.6" ry="11.2"/><path fill="#242424" d="M464.2 136.5L491 129.8L512.2 134.2L524.5 156.5L495.5 147.6L473.2 145.4Z"/><ellipse fill="#7a7a7a" cx="502.2" cy="236.8" rx="11.2" ry="11.2"/></g><ellipse fill="#252525" cx="5.8" cy="143.2" rx="7.8" ry="17.8"/><ellipse fill="#7a7a7a" cx="4.7" cy="172.2" rx="5.6" ry="5.6"/><ellipse fill="#272727" cx="91.7" cy="250.2" rx="8.9" ry="8.9"/><ellipse fill="#272727" cx="111.7" cy="256.9" rx="8.9" ry="5.6"/><ellipse fill="#7a7a7a" cx="145.2" cy="236.8" rx="8.9" ry="6.7"/><ellipse fill="#7a7a7a" cx="189.8" cy="243.5" rx="11.2" ry="7.8"/><ellipse fill="#787878" cx="86.1" cy="82.9" rx="4.5" ry="4.5"/><ellipse fill="#242424" cx="122.9" cy="101.9" rx="9.4" ry="21.2"/><ellipse fill="#272727" cx="111.7" cy="120.9" rx="5.6" ry="8.9"/><ellipse fill="#757575" cx="120.7" cy="145.4" rx="6.7" ry="3.3"/><ellipse fill="#707070" cx="78.3" cy="147.6" rx="4.5" ry="5.6"/><ellipse fill="#252525" cx="138.5" cy="165.5" rx="8.9" ry="7.8"/><ellipse fill="#282828" cx="62.7" cy="154.3" rx="3.3" ry="6.7"/><ellipse fill="#787878" cx="118.4" cy="178.9" rx="8.9" ry="6.7"/><ellipse fill="#a8a8a8" cx="151.9" cy="205.6" rx="8.9" ry="13.4"/><ellipse fill="#282828" cx="207.7" cy="29.4" rx="4.5" ry="6.7"/><ellipse fill="#7a7a7a" cx="223.3" cy="58.4" rx="13.4" ry="6.7"/><ellipse fill="#7a7a7a" cx="201" cy="60.6" rx="6.7" ry="5.6"/><ellipse fill="#737373" cx="227.8" cy="9.3" rx="6.7" ry="5.6"/><ellipse fill="#808080" cx="256.8" cy="13.8" rx="8.9" ry="11.2"/><ellipse fill="#d1d1d1" cx="276.8" cy="16" rx="4.5" ry="4.5"/><ellipse fill="#d6d6d6" cx="259" cy="91.9" rx="13.4" ry="8.9"/><ellipse fill="#d1d1d1" cx="274.6" cy="65.1" rx="2.7" ry="2.7"/><ellipse fill="#474747" cx="375" cy="105.2" rx="8.9" ry="20.1"/><ellipse fill="#252525" cx="388.4" cy="120.9" rx="8.9" ry="13.4"/><ellipse fill="#4c4c4c" cx="223.3" cy="125.3" rx="13.4" ry="5.6" transform="rotate(-25 223.3 125.3)"/><ellipse fill="#a3a3a3" cx="243.4" cy="145.4" rx="6.7" ry="33.5"/><ellipse fill="#bababa" cx="225.5" cy="212.3" rx="8.9" ry="22.3"/><ellipse fill="#9e9e9e" cx="346" cy="214.5" rx="8.9" ry="6.7"/><ellipse fill="#4c4c4c" cx="357.1" cy="201.2" rx="8.9" ry="4.5"/><ellipse fill="#4c4c4c" cx="401.8" cy="196.7" rx="5.6" ry="13.4"/><ellipse fill="#474747" cx="301.4" cy="241.3" rx="8.9" ry="6.7"/><ellipse fill="#4c4c4c" cx="379.5" cy="214.5" rx="4.5" ry="4.5"/><ellipse fill="#4c4c4c" cx="267.9" cy="245.8" rx="11.2" ry="6.7"/><ellipse fill="#575757" cx="323.7" cy="256.9" rx="13.4" ry="6.7"/><ellipse fill="#5c5c5c" cx="390.6" cy="252.5" rx="11.2" ry="8.9"/><ellipse fill="#a8a8a8" cx="437.5" cy="62.9" rx="13.4" ry="8.9"/><ellipse fill="#9e9e9e" cx="424.1" cy="40.6" rx="5.6" ry="5.6"/><ellipse fill="#282828" cx="437.5" cy="22.7" rx="8.9" ry="8.9"/><ellipse fill="#282828" cx="455.3" cy="13.8" rx="4.5" ry="6.7"/><ellipse fill="#4c4c4c" cx="412.9" cy="29.4" rx="5.6" ry="8.9"/><ellipse fill="#474747" cx="457.5" cy="78.5" rx="8.9" ry="6.7"/><ellipse fill="#272727" cx="491" cy="116.4" rx="8.9" ry="5.6"/><ellipse fill="#7a7a7a" cx="468.7" cy="89.6" rx="13.4" ry="8.9"/><ellipse fill="#757575" cx="457.5" cy="125.3" rx="8.9" ry="3.3"/><ellipse fill="#757575" cx="473.2" cy="185.5" rx="6.7" ry="8.9"/><ellipse fill="#9e9e9e" cx="504.4" cy="236.8" rx="4.5" ry="4.5"/><ellipse fill="#282828" cx="479.9" cy="205.6" rx="2.7" ry="6.7"/><ellipse fill="#282828" cx="464.2" cy="214.5" rx="4.5" ry="6.7"/><ellipse fill="#272727" cx="439.7" cy="239.1" rx="6.7" ry="11.2"/><ellipse fill="#282828" cx="446.4" cy="256.9" rx="13.4" ry="5.6"/></g></g><g clip-path="url(#fr)"><use href="#land" fill="none" stroke="#a9a9a9" stroke-width="2" stroke-linejoin="round"/><use href="#lakes" fill="none" stroke="#a9a9a9" stroke-width="1.8" stroke-linejoin="round"/></g></g>
<path d="M853.8 448.1V454.6M853.8 720.2V726.7M938.1 448.1V454.6M938.1 720.2V726.7M1023.5 448.1V454.6M1023.5 720.2V726.7M1108.8 448.1V454.6M1108.8 720.2V726.7M1194.1 448.1V454.6M1194.1 720.2V726.7M1279.5 448.1V454.6M1279.5 720.2V726.7M1365.8 448.1V454.6M1365.8 720.2V726.7M846.3 481.2H853.8M1365.8 481.2H1373.3M846.3 534.3H853.8M1365.8 534.3H1373.3M846.3 587.4H853.8M1365.8 587.4H1373.3M846.3 640.5H853.8M1365.8 640.5H1373.3M846.3 693.6H853.8M1365.8 693.6H1373.3" stroke="#262626" stroke-width="1.6" fill="none"/><rect x="853.8" y="454.6" width="512" height="265.6" fill="none" stroke="#262626" stroke-width="1.7"/><g font-size="27" fill="#3a3a3a"><text x="852.8" y="763" text-anchor="middle">0E</text><text x="938.1" y="763" text-anchor="middle">60E</text><text x="1023.5" y="763" text-anchor="middle">120E</text><text x="1108.8" y="763" text-anchor="middle">180E</text><text x="1194.1" y="763" text-anchor="middle">120W</text><text x="1279.5" y="763" text-anchor="middle">60W</text><text x="1364.8" y="763" text-anchor="middle">0W</text><text x="836.6" y="491" text-anchor="end">40N</text><text x="836.6" y="544.1" text-anchor="end">20N</text><text x="836.6" y="597.2" text-anchor="end">0</text><text x="836.6" y="650.3" text-anchor="end">20S</text><text x="836.6" y="703.4" text-anchor="end">40S</text></g><rect x="1407.3" y="706.9" width="45.8" height="13.8" fill="rgb(185,170,255)"/><rect x="1407.3" y="693.6" width="45.8" height="13.8" fill="rgb(130,110,222)"/><rect x="1407.3" y="680.4" width="45.8" height="13.8" fill="rgb(80,60,190)"/><rect x="1407.3" y="667.1" width="45.8" height="13.8" fill="rgb(40,16,160)"/><rect x="1407.3" y="653.8" width="45.8" height="13.8" fill="rgb(170,225,255)"/><rect x="1407.3" y="640.5" width="45.8" height="13.8" fill="rgb(110,180,222)"/><rect x="1407.3" y="627.2" width="45.8" height="13.8" fill="rgb(60,145,190)"/><rect x="1407.3" y="614" width="45.8" height="13.8" fill="rgb(16,112,160)"/><rect x="1407.3" y="600.7" width="45.8" height="13.8" fill="rgb(225,255,170)"/><rect x="1407.3" y="587.4" width="45.8" height="13.8" fill="rgb(180,222,110)"/><rect x="1407.3" y="574.1" width="45.8" height="13.8" fill="rgb(145,190,60)"/><rect x="1407.3" y="560.8" width="45.8" height="13.8" fill="rgb(112,160,16)"/><rect x="1407.3" y="547.6" width="45.8" height="13.8" fill="rgb(255,212,170)"/><rect x="1407.3" y="534.3" width="45.8" height="13.8" fill="rgb(222,165,110)"/><rect x="1407.3" y="521" width="45.8" height="13.8" fill="rgb(190,125,60)"/><rect x="1407.3" y="507.7" width="45.8" height="13.8" fill="rgb(160,88,16)"/><rect x="1407.3" y="494.4" width="45.8" height="13.8" fill="rgb(255,170,170)"/><rect x="1407.3" y="481.2" width="45.8" height="13.8" fill="rgb(222,110,110)"/><rect x="1407.3" y="467.9" width="45.8" height="13.8" fill="rgb(190,60,60)"/><rect x="1407.3" y="454.6" width="45.8" height="13.8" fill="rgb(160,16,16)"/><rect x="1407.3" y="454.6" width="45.8" height="265.6" fill="none" stroke="#262626" stroke-width="1.5"/><path d="M1448.1 587.4h5" stroke="#262626" stroke-width="1.2"/><g font-size="21.5" fill="#3a3a3a"><text x="1463.6" y="463.3">100</text><text x="1463.6" y="596.1">50</text><text x="1463.6" y="728.9">0</text></g><text x="1108.3" y="442.4" font-size="30" fill="#111" text-anchor="middle">(e) SIO</text>
</g>
<g id="p5">
<path d="M1711.3 454.6V720.2M1796.9 454.6V720.2M1882.5 454.6V720.2M1968 454.6V720.2M2053.6 454.6V720.2M1626.7 481.2H2140.2M1626.7 534.3H2140.2M1626.7 587.4H2140.2M1626.7 640.5H2140.2M1626.7 693.6H2140.2" stroke="#d9d9d9" stroke-width="1" fill="none"/>
<g transform="translate(1626.7,454.6) scale(1.00234,1)"><g mask="url(#ocean)"><g filter="url(#q5)"><g filter="url(#bl)"><path fill="#4a4a4a" d="M-22.4 -21.9H535.3V290.4H-22.4Z"/><ellipse fill="#252525" cx="22.2" cy="241.3" rx="13.4" ry="13.4"/><ellipse fill="#252525" cx="71.3" cy="243.5" rx="15.6" ry="13.4"/><ellipse fill="#616161" cx="189.5" cy="245.8" rx="17.8" ry="13.4"/><ellipse fill="#252525" cx="92.5" cy="105.2" rx="10" ry="20.1"/><ellipse fill="#404040" cx="100.3" cy="169.9" rx="17.8" ry="17.8"/><ellipse fill="#787878" cx="82.4" cy="190" rx="11.2" ry="11.2"/><ellipse fill="#808080" cx="156.1" cy="185.5" rx="11.2" ry="13.4"/><ellipse fill="#ababab" cx="151.6" cy="207.8" rx="10" ry="13.4"/><path fill="#616161" d="M189.5 56.2L200.7 0.4L278.8 0.4L278.8 67.3L189.5 67.3Z"/><path fill="#b8b8b8" d="M263.2 4.9L325.6 0.4L334.5 45L339 67.3L321.2 65.1L312.2 40.6L281 33.9L265.4 22.7Z"/><ellipse fill="#9e9e9e" cx="325.6" cy="51.7" rx="11.2" ry="15.6"/><path fill="#d6d6d6" d="M267.6 7.1L289.9 3.7L321.2 3.7L323.4 20.5L307.8 29.4L289.9 24.9L272.1 20.5Z"/><path fill="#858585" d="M205.1 62.9L227.5 62.9L231.9 116.4L200.7 116.4Z"/><path fill="#bababa" d="M173.9 69.5L202.9 65.1L208.5 89.6L204 118.6L181.7 119.7L176.1 94.1Z"/><path fill="#bdbdbd" d="M227.5 67.3L267.6 60.6L301.1 60.6L330.1 74L341.2 94.1L339 116.4L316.7 125.3L289.9 134.2L274.3 152.1L252 143.2L245.3 120.9L229.7 98.5Z"/><ellipse fill="#adadad" cx="312.2" cy="100.8" rx="17.8" ry="15.6"/><ellipse fill="#808080" cx="354.6" cy="103" rx="13.4" ry="20.1"/><ellipse fill="#474747" cx="379.2" cy="105.2" rx="11.2" ry="17.8"/><ellipse fill="#474747" cx="352.4" cy="140.9" rx="44.6" ry="17.8"/><path fill="#242424" d="M327.8 138.7L347.9 132L379.2 127.5L397 120.9L399.2 143.2L379.2 152.1L347.9 149.9Z"/><ellipse fill="#808080" cx="289.9" cy="145.4" rx="17.8" ry="11.2"/><path fill="#808080" d="M214.1 156.5L412.6 156.5L412.6 279.2L214.1 279.2Z"/><path fill="#b8b8b8" d="M267.6 161L312.2 165.5L334.5 163.2L397 165.5L399.2 178.9L379.2 190L356.8 192.2L330.1 178.9L289.9 174.4Z"/><ellipse fill="#8c8c8c" cx="223" cy="174.4" rx="11.2" ry="11.2"/><ellipse fill="#bdbdbd" cx="263.2" cy="201.2" rx="20.1" ry="20.1"/><ellipse fill="#666666" cx="289.9" cy="252.5" rx="26.8" ry="11.2"/><path fill="#707070" d="M405.9 22.7L423.8 0.4L511.9 0.4L511.9 85.2L423.8 85.2Z"/><ellipse fill="#808080" cx="423.8" cy="49.5" rx="15.6" ry="13.4"/><ellipse fill="#242424" cx="446.1" cy="105.2" rx="15.6" ry="11.2"/><ellipse fill="#525252" cx="479.6" cy="212.3" rx="17.8" ry="22.3"/></g><ellipse fill="#252525" cx="5.5" cy="143.2" rx="7.8" ry="15.6"/><ellipse fill="#787878" cx="4.4" cy="172.2" rx="4.5" ry="4.5"/><ellipse fill="#282828" cx="6.6" cy="201.2" rx="4.5" ry="13.4"/><ellipse fill="#282828" cx="111.4" cy="254.7" rx="6.7" ry="6.7"/><ellipse fill="#282828" cx="144.9" cy="256.9" rx="6.7" ry="4.5"/><ellipse fill="#787878" cx="133.8" cy="232.4" rx="6.7" ry="8.9"/><ellipse fill="#787878" cx="162.8" cy="241.3" rx="8.9" ry="6.7"/><ellipse fill="#7a7a7a" cx="89.1" cy="214.5" rx="11.2" ry="6.7"/><ellipse fill="#252525" cx="122.6" cy="98.5" rx="8.9" ry="19"/><ellipse fill="#272727" cx="111.4" cy="118.6" rx="6.7" ry="6.7"/><ellipse fill="#757575" cx="113.7" cy="143.2" rx="13.4" ry="8.9"/><ellipse fill="#252525" cx="134.9" cy="167.7" rx="7.8" ry="13.4"/><ellipse fill="#787878" cx="86.9" cy="207.8" rx="11.2" ry="8.9"/><ellipse fill="#272727" cx="234.1" cy="31.6" rx="11.2" ry="6.7"/><ellipse fill="#282828" cx="214.1" cy="22.7" rx="3.3" ry="3.3"/><ellipse fill="#7a7a7a" cx="223" cy="62.9" rx="17.8" ry="8.9"/><ellipse fill="#4c4c4c" cx="274.3" cy="51.7" rx="11.2" ry="3.3"/><ellipse fill="#7a7a7a" cx="256.5" cy="13.8" rx="8.9" ry="8.9"/><ellipse fill="#d1d1d1" cx="252" cy="74" rx="4.5" ry="6.7"/><ellipse fill="#d1d1d1" cx="294.4" cy="65.1" rx="4.5" ry="4.5"/><ellipse fill="#cccccc" cx="263.2" cy="94.1" rx="4.5" ry="4.5"/><ellipse fill="#808080" cx="223" cy="111.9" rx="22.3" ry="6.7"/><ellipse fill="#4c4c4c" cx="218.5" cy="127.5" rx="13.4" ry="8.9"/><ellipse fill="#a3a3a3" cx="243.1" cy="152.1" rx="8.9" ry="29"/><ellipse fill="#a3a3a3" cx="243.1" cy="165.5" rx="8.9" ry="17.8"/><ellipse fill="#d1d1d1" cx="368" cy="181.1" rx="5.6" ry="4.5"/><ellipse fill="#b2b2b2" cx="223" cy="223.5" rx="8.9" ry="17.8"/><ellipse fill="#9e9e9e" cx="321.2" cy="225.7" rx="6.7" ry="6.7"/><ellipse fill="#a1a1a1" cx="361.3" cy="236.8" rx="6.7" ry="11.2"/><ellipse fill="#474747" cx="401.5" cy="223.5" rx="5.6" ry="17.8"/><ellipse fill="#4c4c4c" cx="301.1" cy="223.5" rx="5.6" ry="5.6"/><ellipse fill="#6b6b6b" cx="379.2" cy="254.7" rx="22.3" ry="8.9"/><ellipse fill="#a1a1a1" cx="437.2" cy="62.9" rx="8.9" ry="6.7"/><ellipse fill="#9e9e9e" cx="475.1" cy="58.4" rx="6.7" ry="6.7"/><ellipse fill="#a1a1a1" cx="490.7" cy="16" rx="8.9" ry="8.9"/><ellipse fill="#252525" cx="438.3" cy="22.7" rx="11.2" ry="8.9"/><ellipse fill="#474747" cx="457.2" cy="74" rx="11.2" ry="7.8"/><ellipse fill="#282828" cx="463.9" cy="45" rx="5.6" ry="4.5"/><ellipse fill="#7a7a7a" cx="468.4" cy="120.9" rx="6.7" ry="8.9"/><ellipse fill="#7a7a7a" cx="477.3" cy="94.1" rx="6.7" ry="8.9"/><ellipse fill="#242424" cx="477.3" cy="138.7" rx="11.2" ry="7.8"/><ellipse fill="#272727" cx="506.3" cy="145.4" rx="6.7" ry="6.7"/><ellipse fill="#282828" cx="490.7" cy="120.9" rx="4.5" ry="6.7"/><ellipse fill="#787878" cx="497.4" cy="185.5" rx="6.7" ry="8.9"/><ellipse fill="#7a7a7a" cx="506.3" cy="241.3" rx="5.6" ry="8.9"/><ellipse fill="#252525" cx="443.9" cy="234.6" rx="8.9" ry="11.2"/><ellipse fill="#282828" cx="437.2" cy="252.5" rx="6.7" ry="8.9"/></g></g><g clip-path="url(#fr)"><use href="#land" fill="none" stroke="#a9a9a9" stroke-width="2" stroke-linejoin="round"/><use href="#lakes" fill="none" stroke="#a9a9a9" stroke-width="1.8" stroke-linejoin="round"/></g></g>
<path d="M1626.7 448.1V454.6M1626.7 720.2V726.7M1711.3 448.1V454.6M1711.3 720.2V726.7M1796.9 448.1V454.6M1796.9 720.2V726.7M1882.5 448.1V454.6M1882.5 720.2V726.7M1968 448.1V454.6M1968 720.2V726.7M2053.6 448.1V454.6M2053.6 720.2V726.7M2140.2 448.1V454.6M2140.2 720.2V726.7M1619.2 481.2H1626.7M2140.2 481.2H2147.7M1619.2 534.3H1626.7M2140.2 534.3H2147.7M1619.2 587.4H1626.7M2140.2 587.4H2147.7M1619.2 640.5H1626.7M2140.2 640.5H2147.7M1619.2 693.6H1626.7M2140.2 693.6H2147.7" stroke="#262626" stroke-width="1.6" fill="none"/><rect x="1626.7" y="454.6" width="513.5" height="265.6" fill="none" stroke="#262626" stroke-width="1.7"/><g font-size="27" fill="#3a3a3a"><text x="1625.7" y="763" text-anchor="middle">0E</text><text x="1711.3" y="763" text-anchor="middle">60E</text><text x="1796.9" y="763" text-anchor="middle">120E</text><text x="1882.5" y="763" text-anchor="middle">180E</text><text x="1968" y="763" text-anchor="middle">120W</text><text x="2053.6" y="763" text-anchor="middle">60W</text><text x="2139.2" y="763" text-anchor="middle">0W</text><text x="1609.5" y="491" text-anchor="end">40N</text><text x="1609.5" y="544.1" text-anchor="end">20N</text><text x="1609.5" y="597.2" text-anchor="end">0</text><text x="1609.5" y="650.3" text-anchor="end">20S</text><text x="1609.5" y="703.4" text-anchor="end">40S</text></g><rect x="2181.7" y="706.9" width="45.8" height="13.8" fill="rgb(185,170,255)"/><rect x="2181.7" y="693.6" width="45.8" height="13.8" fill="rgb(130,110,222)"/><rect x="2181.7" y="680.4" width="45.8" height="13.8" fill="rgb(80,60,190)"/><rect x="2181.7" y="667.1" width="45.8" height="13.8" fill="rgb(40,16,160)"/><rect x="2181.7" y="653.8" width="45.8" height="13.8" fill="rgb(170,225,255)"/><rect x="2181.7" y="640.5" width="45.8" height="13.8" fill="rgb(110,180,222)"/><rect x="2181.7" y="627.2" width="45.8" height="13.8" fill="rgb(60,145,190)"/><rect x="2181.7" y="614" width="45.8" height="13.8" fill="rgb(16,112,160)"/><rect x="2181.7" y="600.7" width="45.8" height="13.8" fill="rgb(225,255,170)"/><rect x="2181.7" y="587.4" width="45.8" height="13.8" fill="rgb(180,222,110)"/><rect x="2181.7" y="574.1" width="45.8" height="13.8" fill="rgb(145,190,60)"/><rect x="2181.7" y="560.8" width="45.8" height="13.8" fill="rgb(112,160,16)"/><rect x="2181.7" y="547.6" width="45.8" height="13.8" fill="rgb(255,212,170)"/><rect x="2181.7" y="534.3" width="45.8" height="13.8" fill="rgb(222,165,110)"/><rect x="2181.7" y="521" width="45.8" height="13.8" fill="rgb(190,125,60)"/><rect x="2181.7" y="507.7" width="45.8" height="13.8" fill="rgb(160,88,16)"/><rect x="2181.7" y="494.4" width="45.8" height="13.8" fill="rgb(255,170,170)"/><rect x="2181.7" y="481.2" width="45.8" height="13.8" fill="rgb(222,110,110)"/><rect x="2181.7" y="467.9" width="45.8" height="13.8" fill="rgb(190,60,60)"/><rect x="2181.7" y="454.6" width="45.8" height="13.8" fill="rgb(160,16,16)"/><rect x="2181.7" y="454.6" width="45.8" height="265.6" fill="none" stroke="#262626" stroke-width="1.5"/><path d="M2222.5 587.4h5" stroke="#262626" stroke-width="1.2"/><g font-size="21.5" fill="#3a3a3a"><text x="2238" y="463.3">100</text><text x="2238" y="596.1">50</text><text x="2238" y="728.9">0</text></g><text x="1882" y="442.4" font-size="30" fill="#111" text-anchor="middle">(f) BOA</text>
</g>
<g id="p6">
<path d="M163.9 817.6V1083.2M249.3 817.6V1083.2M334.6 817.6V1083.2M420 817.6V1083.2M505.4 817.6V1083.2M79.5 844.2H591.8M79.5 897.3H591.8M79.5 950.4H591.8M79.5 1003.5H591.8M79.5 1056.6H591.8" stroke="#d9d9d9" stroke-width="1" fill="none"/>
<g transform="translate(79.5,817.6)"><g mask="url(#ocean)"><g filter="url(#q6)"><g filter="url(#bl)"><path fill="#474747" d="M-21.8 -21.9H535.9V290.4H-21.8Z"/><path fill="#2d2d2d" d="M-21.8 232.4L214.7 234.6L402.1 225.7L535.9 230.2L535.9 290.4L-21.8 290.4Z"/><ellipse fill="#454545" cx="156.7" cy="248" rx="51.3" ry="13.4"/><ellipse fill="#272727" cx="127.7" cy="169.9" rx="11.2" ry="20.1"/><ellipse fill="#272727" cx="239.2" cy="38.3" rx="13.4" ry="11.2"/><ellipse fill="#737373" cx="190.1" cy="96.3" rx="13.4" ry="22.3"/><path fill="#858585" d="M208 94.1L245.9 71.8L286.1 52.8L317.3 65.1L353 87.4L364.1 107.5L353 129.8L312.8 138.7L290.5 145.4L257.1 140.9L219.1 127.5Z"/><path fill="#858585" d="M210.2 134.2L257.1 134.2L290.5 143.2L306.1 178.9L295 205.6L257.1 205.6L221.4 194.5L210.2 167.7Z"/><path fill="#858585" d="M290.5 174.4L312.8 185.5L335.1 196.7L370.8 210.1L377.5 230.2L348.5 236.8L312.8 219L279.4 219L257.1 201.2Z"/><path fill="#a3a3a3" d="M243.7 94.1L268.2 74L288.3 67.3L295 89.6L312.8 111.9L290.5 125.3L279.4 138.7L263.8 134.2L257.1 111.9Z"/><ellipse fill="#7a7a7a" cx="341.8" cy="169.9" rx="11.2" ry="11.2"/><path fill="#272727" d="M297.2 143.2L335.1 143.2L368.6 129.8L388.7 134.2L388.7 152.1L357.4 156.5L324 156.5L301.7 152.1Z"/><ellipse fill="#282828" cx="469" cy="36.1" rx="11.2" ry="13.4"/><ellipse fill="#272727" cx="446.7" cy="105.2" rx="15.6" ry="11.2"/><ellipse fill="#272727" cx="477.9" cy="143.2" rx="13.4" ry="15.6"/></g><ellipse fill="#282828" cx="7.2" cy="152.1" rx="8.9" ry="22.3"/><ellipse fill="#2a2a2a" cx="9.4" cy="212.3" rx="8.9" ry="22.3"/><ellipse fill="#737373" cx="156.7" cy="236.8" rx="11.2" ry="6.7"/><ellipse fill="#6b6b6b" cx="190.1" cy="234.6" rx="8.9" ry="6.7"/><ellipse fill="#282828" cx="98.7" cy="120.9" rx="3.3" ry="17.8"/><ellipse fill="#737373" cx="89.7" cy="74" rx="4.5" ry="4.5"/><ellipse fill="#282828" cx="123.2" cy="96.3" rx="6.7" ry="13.4"/><ellipse fill="#282828" cx="112" cy="120.9" rx="6.7" ry="8.9"/><ellipse fill="#707070" cx="69.7" cy="156.5" rx="8.9" ry="17.8"/><ellipse fill="#9e9e9e" cx="65.2" cy="145.4" rx="3.3" ry="4.5"/><ellipse fill="#282828" cx="138.8" cy="214.5" rx="15.6" ry="5.6"/><ellipse fill="#808080" cx="67.4" cy="212.3" rx="8.9" ry="13.4"/><ellipse fill="#a3a3a3" cx="67.4" cy="214.5" rx="3.3" ry="6.7"/><ellipse fill="#707070" cx="80.8" cy="190" rx="8.9" ry="8.9"/><ellipse fill="#737373" cx="156.7" cy="205.6" rx="6.7" ry="6.7"/><ellipse fill="#272727" cx="272.7" cy="38.3" rx="8.9" ry="8.9"/><ellipse fill="#282828" cx="205.7" cy="56.2" rx="4.5" ry="13.4"/><ellipse fill="#282828" cx="234.7" cy="9.3" rx="6.7" ry="6.7"/><ellipse fill="#7a7a7a" cx="288.3" cy="21.6" rx="29" ry="5.6"/><ellipse fill="#9e9e9e" cx="301.7" cy="27.2" rx="3.3" ry="3.3"/><ellipse fill="#787878" cx="317.3" cy="42.8" rx="8.9" ry="6.7"/><ellipse fill="#bdbdbd" cx="257.1" cy="100.8" rx="5.6" ry="5.6"/><ellipse fill="#bdbdbd" cx="281.6" cy="80.7" rx="6.7" ry="8.9"/><ellipse fill="#b2b2b2" cx="268.2" cy="134.2" rx="4.5" ry="4.5"/><ellipse fill="#a3a3a3" cx="261.5" cy="165.5" rx="17.8" ry="8.9"/><ellipse fill="#999999" cx="245.9" cy="145.4" rx="8.9" ry="13.4"/><ellipse fill="#757575" cx="368.6" cy="183.3" rx="6.7" ry="13.4"/><ellipse fill="#282828" cx="457.8" cy="58.4" rx="4.5" ry="11.2"/><ellipse fill="#7a7a7a" cx="433.3" cy="65.1" rx="8.9" ry="8.9"/><ellipse fill="#757575" cx="424.4" cy="24.9" rx="8.9" ry="5.6"/><ellipse fill="#7a7a7a" cx="489.1" cy="16" rx="6.7" ry="15.6"/><ellipse fill="#707070" cx="471.2" cy="120.9" rx="11.2" ry="5.6"/><ellipse fill="#272727" cx="506.9" cy="156.5" rx="6.7" ry="17.8"/><ellipse fill="#2e2e2e" cx="480.2" cy="201.2" rx="8.9" ry="13.4"/></g></g><g clip-path="url(#fr)"><use href="#land" fill="none" stroke="#a9a9a9" stroke-width="2" stroke-linejoin="round"/><use href="#lakes" fill="none" stroke="#a9a9a9" stroke-width="1.8" stroke-linejoin="round"/></g></g>
<path d="M79.5 811.1V817.6M79.5 1083.2V1089.7M163.9 811.1V817.6M163.9 1083.2V1089.7M249.3 811.1V817.6M249.3 1083.2V1089.7M334.6 811.1V817.6M334.6 1083.2V1089.7M420 811.1V817.6M420 1083.2V1089.7M505.4 811.1V817.6M505.4 1083.2V1089.7M591.8 811.1V817.6M591.8 1083.2V1089.7M72 844.2H79.5M591.8 844.2H599.3M72 897.3H79.5M591.8 897.3H599.3M72 950.4H79.5M591.8 950.4H599.3M72 1003.5H79.5M591.8 1003.5H599.3M72 1056.6H79.5M591.8 1056.6H599.3" stroke="#262626" stroke-width="1.6" fill="none"/><rect x="79.5" y="817.6" width="512.3" height="265.6" fill="none" stroke="#262626" stroke-width="1.7"/><g font-size="27" fill="#3a3a3a"><text x="78.5" y="1126" text-anchor="middle">0E</text><text x="163.9" y="1126" text-anchor="middle">60E</text><text x="249.3" y="1126" text-anchor="middle">120E</text><text x="334.6" y="1126" text-anchor="middle">180E</text><text x="420" y="1126" text-anchor="middle">120W</text><text x="505.4" y="1126" text-anchor="middle">60W</text><text x="590.8" y="1126" text-anchor="middle">0W</text><text x="62.3" y="854" text-anchor="end">40N</text><text x="62.3" y="907.1" text-anchor="end">20N</text><text x="62.3" y="960.2" text-anchor="end">0</text><text x="62.3" y="1013.3" text-anchor="end">20S</text><text x="62.3" y="1066.4" text-anchor="end">40S</text></g><rect x="633.3" y="1069.9" width="45.8" height="13.8" fill="rgb(185,170,255)"/><rect x="633.3" y="1056.6" width="45.8" height="13.8" fill="rgb(130,110,222)"/><rect x="633.3" y="1043.4" width="45.8" height="13.8" fill="rgb(80,60,190)"/><rect x="633.3" y="1030.1" width="45.8" height="13.8" fill="rgb(40,16,160)"/><rect x="633.3" y="1016.8" width="45.8" height="13.8" fill="rgb(170,225,255)"/><rect x="633.3" y="1003.5" width="45.8" height="13.8" fill="rgb(110,180,222)"/><rect x="633.3" y="990.2" width="45.8" height="13.8" fill="rgb(60,145,190)"/><rect x="633.3" y="977" width="45.8" height="13.8" fill="rgb(16,112,160)"/><rect x="633.3" y="963.7" width="45.8" height="13.8" fill="rgb(225,255,170)"/><rect x="633.3" y="950.4" width="45.8" height="13.8" fill="rgb(180,222,110)"/><rect x="633.3" y="937.1" width="45.8" height="13.8" fill="rgb(145,190,60)"/><rect x="633.3" y="923.8" width="45.8" height="13.8" fill="rgb(112,160,16)"/><rect x="633.3" y="910.6" width="45.8" height="13.8" fill="rgb(255,212,170)"/><rect x="633.3" y="897.3" width="45.8" height="13.8" fill="rgb(222,165,110)"/><rect x="633.3" y="884" width="45.8" height="13.8" fill="rgb(190,125,60)"/><rect x="633.3" y="870.7" width="45.8" height="13.8" fill="rgb(160,88,16)"/><rect x="633.3" y="857.4" width="45.8" height="13.8" fill="rgb(255,170,170)"/><rect x="633.3" y="844.2" width="45.8" height="13.8" fill="rgb(222,110,110)"/><rect x="633.3" y="830.9" width="45.8" height="13.8" fill="rgb(190,60,60)"/><rect x="633.3" y="817.6" width="45.8" height="13.8" fill="rgb(160,16,16)"/><rect x="633.3" y="817.6" width="45.8" height="265.6" fill="none" stroke="#262626" stroke-width="1.5"/><path d="M674.1 950.4h5" stroke="#262626" stroke-width="1.2"/><g font-size="21.5" fill="#3a3a3a"><text x="689.6" y="826.3">100</text><text x="689.6" y="959.1">50</text><text x="689.6" y="1091.9">0</text></g><text x="334.1" y="805.4" font-size="30" fill="#111" text-anchor="middle">(g) LOCEAN</text>
</g>
<g id="p7">
<path d="M938.1 817.6V1083.2M1023.5 817.6V1083.2M1108.8 817.6V1083.2M1194.1 817.6V1083.2M1279.5 817.6V1083.2M853.8 844.2H1365.8M853.8 897.3H1365.8M853.8 950.4H1365.8M853.8 1003.5H1365.8M853.8 1056.6H1365.8" stroke="#d9d9d9" stroke-width="1" fill="none"/>
<g transform="translate(853.8,817.6) scale(0.99941,1)"><g mask="url(#ocean)"><g filter="url(#q7)"><g filter="url(#bl)"><path fill="#474747" d="M-22.1 -21.9H535.6V290.4H-22.1Z"/><path fill="#2a2a2a" d="M-22.1 214.5L67.1 223.5L156.4 214.5L214.4 227.9L290.2 214.5L401.8 219L424.1 290.4L-22.1 290.4Z"/><ellipse fill="#424242" cx="167.5" cy="245.8" rx="44.6" ry="15.6"/><path fill="#2b2b2b" d="M457.5 174.4L512.2 169.9L535.6 169.9L535.6 290.4L430.8 290.4L435.2 223.5Z"/><ellipse fill="#737373" cx="151.9" cy="196.7" rx="11.2" ry="15.6"/><ellipse fill="#616161" cx="73.8" cy="145.4" rx="13.4" ry="22.3"/><ellipse fill="#5c5c5c" cx="111.7" cy="167.7" rx="22.3" ry="17.8"/><ellipse fill="#6b6b6b" cx="145.2" cy="190" rx="17.8" ry="22.3"/><ellipse fill="#5c5c5c" cx="93.9" cy="201.2" rx="17.8" ry="13.4"/><path fill="#757575" d="M223.3 89.6L301.4 85.2L368.3 111.9L379.5 125.3L334.8 134.2L323.7 156.5L379.5 161L390.6 190L334.8 201.2L279.1 219L241.1 205.6L223.3 156.5L227.8 125.3Z"/><ellipse fill="#757575" cx="194.3" cy="89.6" rx="16.7" ry="26.8"/><ellipse fill="#808080" cx="288" cy="22.7" rx="33.5" ry="12.3"/><ellipse fill="#737373" cx="189.8" cy="85.2" rx="13.4" ry="17.8"/><ellipse fill="#808080" cx="285.8" cy="74" rx="13.4" ry="17.8"/><path fill="#808080" d="M223.3 96.3L245.6 89.6L267.9 94.1L296.9 94.1L299.1 116.4L334.8 116.4L366.1 120.9L348.2 129.8L312.5 134.2L290.2 147.6L285.8 169.9L290.2 192.2L279.1 214.5L256.8 214.5L241.1 201.2L236.7 178.9L223.3 156.5L227.8 134.2L234.4 116.4Z"/><ellipse fill="#a1a1a1" cx="267.9" cy="127.5" rx="20.1" ry="13.4"/><ellipse fill="#808080" cx="348.2" cy="176.6" rx="29" ry="17.8"/><ellipse fill="#2b2b2b" cx="464.2" cy="18.2" rx="11.2" ry="11.2"/><ellipse fill="#808080" cx="435.2" cy="69.5" rx="11.2" ry="13.4"/></g><ellipse fill="#2b2b2b" cx="6.9" cy="145.4" rx="8.9" ry="17.8"/><ellipse fill="#2a2a2a" cx="6.9" cy="212.3" rx="8.9" ry="22.3"/><ellipse fill="#757575" cx="87.2" cy="76.2" rx="4.5" ry="6.7"/><ellipse fill="#707070" cx="82.7" cy="105.2" rx="6.7" ry="4.5"/><ellipse fill="#282828" cx="125.1" cy="94.1" rx="6.7" ry="13.4"/><ellipse fill="#282828" cx="116.2" cy="120.9" rx="11.2" ry="6.7"/><ellipse fill="#6b6b6b" cx="62.7" cy="143.2" rx="5.6" ry="11.2"/><ellipse fill="#6e6e6e" cx="129.6" cy="145.4" rx="6.7" ry="4.5"/><ellipse fill="#808080" cx="58.2" cy="227.9" rx="3.3" ry="3.3"/><ellipse fill="#282828" cx="223.3" cy="40.6" rx="13.4" ry="5.6"/><ellipse fill="#282828" cx="274.6" cy="51.7" rx="13.4" ry="4.5"/><ellipse fill="#282828" cx="201" cy="53.9" rx="4.5" ry="4.5"/><ellipse fill="#999999" cx="290.2" cy="24.9" rx="3.3" ry="3.3"/><ellipse fill="#757575" cx="321.5" cy="42.8" rx="5.6" ry="5.6"/><ellipse fill="#707070" cx="201" cy="116.4" rx="13.4" ry="8.9"/><ellipse fill="#9e9e9e" cx="285.8" cy="78.5" rx="7.8" ry="10"/><ellipse fill="#9e9e9e" cx="267.9" cy="165.5" rx="6.7" ry="5.6"/><ellipse fill="#737373" cx="334.8" cy="62.9" rx="8.9" ry="8.9"/><ellipse fill="#737373" cx="321.5" cy="85.2" rx="6.7" ry="6.7"/><ellipse fill="#282828" cx="366.1" cy="143.2" rx="8.9" ry="5.6"/><ellipse fill="#2b2b2b" cx="459.8" cy="56.2" rx="8.9" ry="8.9"/><ellipse fill="#2b2b2b" cx="479.9" cy="45" rx="5.6" ry="6.7"/><ellipse fill="#adadad" cx="437.5" cy="67.3" rx="2.7" ry="7.8"/><ellipse fill="#737373" cx="473.2" cy="94.1" rx="6.7" ry="6.7"/><ellipse fill="#282828" cx="441.9" cy="107.5" rx="11.2" ry="8.9"/><ellipse fill="#6b6b6b" cx="459.8" cy="145.4" rx="6.7" ry="8.9"/></g></g><g clip-path="url(#fr)"><use href="#land" fill="none" stroke="#a9a9a9" stroke-width="2" stroke-linejoin="round"/><use href="#lakes" fill="none" stroke="#a9a9a9" stroke-width="1.8" stroke-linejoin="round"/></g></g>
<path d="M853.8 811.1V817.6M853.8 1083.2V1089.7M938.1 811.1V817.6M938.1 1083.2V1089.7M1023.5 811.1V817.6M1023.5 1083.2V1089.7M1108.8 811.1V817.6M1108.8 1083.2V1089.7M1194.1 811.1V817.6M1194.1 1083.2V1089.7M1279.5 811.1V817.6M1279.5 1083.2V1089.7M1365.8 811.1V817.6M1365.8 1083.2V1089.7M846.3 844.2H853.8M1365.8 844.2H1373.3M846.3 897.3H853.8M1365.8 897.3H1373.3M846.3 950.4H853.8M1365.8 950.4H1373.3M846.3 1003.5H853.8M1365.8 1003.5H1373.3M846.3 1056.6H853.8M1365.8 1056.6H1373.3" stroke="#262626" stroke-width="1.6" fill="none"/><rect x="853.8" y="817.6" width="512" height="265.6" fill="none" stroke="#262626" stroke-width="1.7"/><g font-size="27" fill="#3a3a3a"><text x="852.8" y="1126" text-anchor="middle">0E</text><text x="938.1" y="1126" text-anchor="middle">60E</text><text x="1023.5" y="1126" text-anchor="middle">120E</text><text x="1108.8" y="1126" text-anchor="middle">180E</text><text x="1194.1" y="1126" text-anchor="middle">120W</text><text x="1279.5" y="1126" text-anchor="middle">60W</text><text x="1364.8" y="1126" text-anchor="middle">0W</text><text x="836.6" y="854" text-anchor="end">40N</text><text x="836.6" y="907.1" text-anchor="end">20N</text><text x="836.6" y="960.2" text-anchor="end">0</text><text x="836.6" y="1013.3" text-anchor="end">20S</text><text x="836.6" y="1066.4" text-anchor="end">40S</text></g><rect x="1407.3" y="1069.9" width="45.8" height="13.8" fill="rgb(185,170,255)"/><rect x="1407.3" y="1056.6" width="45.8" height="13.8" fill="rgb(130,110,222)"/><rect x="1407.3" y="1043.4" width="45.8" height="13.8" fill="rgb(80,60,190)"/><rect x="1407.3" y="1030.1" width="45.8" height="13.8" fill="rgb(40,16,160)"/><rect x="1407.3" y="1016.8" width="45.8" height="13.8" fill="rgb(170,225,255)"/><rect x="1407.3" y="1003.5" width="45.8" height="13.8" fill="rgb(110,180,222)"/><rect x="1407.3" y="990.2" width="45.8" height="13.8" fill="rgb(60,145,190)"/><rect x="1407.3" y="977" width="45.8" height="13.8" fill="rgb(16,112,160)"/><rect x="1407.3" y="963.7" width="45.8" height="13.8" fill="rgb(225,255,170)"/><rect x="1407.3" y="950.4" width="45.8" height="13.8" fill="rgb(180,222,110)"/><rect x="1407.3" y="937.1" width="45.8" height="13.8" fill="rgb(145,190,60)"/><rect x="1407.3" y="923.8" width="45.8" height="13.8" fill="rgb(112,160,16)"/><rect x="1407.3" y="910.6" width="45.8" height="13.8" fill="rgb(255,212,170)"/><rect x="1407.3" y="897.3" width="45.8" height="13.8" fill="rgb(222,165,110)"/><rect x="1407.3" y="884" width="45.8" height="13.8" fill="rgb(190,125,60)"/><rect x="1407.3" y="870.7" width="45.8" height="13.8" fill="rgb(160,88,16)"/><rect x="1407.3" y="857.4" width="45.8" height="13.8" fill="rgb(255,170,170)"/><rect x="1407.3" y="844.2" width="45.8" height="13.8" fill="rgb(222,110,110)"/><rect x="1407.3" y="830.9" width="45.8" height="13.8" fill="rgb(190,60,60)"/><rect x="1407.3" y="817.6" width="45.8" height="13.8" fill="rgb(160,16,16)"/><rect x="1407.3" y="817.6" width="45.8" height="265.6" fill="none" stroke="#262626" stroke-width="1.5"/><path d="M1448.1 950.4h5" stroke="#262626" stroke-width="1.2"/><g font-size="21.5" fill="#3a3a3a"><text x="1463.6" y="826.3">100</text><text x="1463.6" y="959.1">50</text><text x="1463.6" y="1091.9">0</text></g><text x="1108.3" y="805.4" font-size="30" fill="#111" text-anchor="middle">(h) BEC</text>
</g>
<g id="p8">
<path d="M1711.3 817.6V1083.2M1796.9 817.6V1083.2M1882.5 817.6V1083.2M1968 817.6V1083.2M2053.6 817.6V1083.2M1626.7 844.2H2140.2M1626.7 897.3H2140.2M1626.7 950.4H2140.2M1626.7 1003.5H2140.2M1626.7 1056.6H2140.2" stroke="#d9d9d9" stroke-width="1" fill="none"/>
<g transform="translate(1626.7,817.6) scale(1.00234,1)"><g mask="url(#ocean)"><g filter="url(#q8)"><g filter="url(#bl)"><path fill="#474747" d="M-22.4 -21.9H535.3V290.4H-22.4Z"/><path fill="#2e2e2e" d="M-22.4 241.3L89.1 245.8L200.7 250.2L245.3 232.4L334.5 236.8L401.5 241.3L535.3 245.8L535.3 290.4L-22.4 290.4Z"/><ellipse fill="#757575" cx="173.9" cy="239.1" rx="26.8" ry="11.2"/><ellipse fill="#272727" cx="89.1" cy="96.3" rx="11.2" ry="15.6"/><ellipse fill="#252525" cx="129.3" cy="169.9" rx="13.4" ry="20.1"/><ellipse fill="#858585" cx="292.2" cy="22.7" rx="33.5" ry="15.6"/><path fill="#808080" d="M173.9 69.5L200.7 62.9L225.2 65.1L238.6 89.6L225.2 118.6L200.7 127.5L180.6 123.1Z"/><path fill="#858585" d="M218.5 65.1L267.6 53.9L312.2 49.5L347.9 60.6L363.5 89.6L356.8 118.6L330.1 134.2L316.7 154.3L339 158.8L399.2 167.7L405.9 196.7L383.6 227.9L347.9 236.8L312.2 221.2L267.6 221.2L231.9 205.6L214.1 174.4L218.5 145.4L231.9 125.3L240.8 107.5Z"/><path fill="#a6a6a6" d="M245.3 89.6L267.6 67.3L289.9 62.9L312.2 74L323.4 98.5L312.2 120.9L289.9 134.2L267.6 143.2L252 134.2L256.5 111.9Z"/><ellipse fill="#858585" cx="307.8" cy="98.5" rx="11.2" ry="11.2"/><ellipse fill="#a8a8a8" cx="256.5" cy="163.2" rx="20.1" ry="11.2"/><ellipse fill="#474747" cx="347.9" cy="145.4" rx="44.6" ry="17.8"/><path fill="#252525" d="M323.4 147.6L345.7 134.2L379.2 127.5L394.8 134.2L392.5 152.1L368 161L334.5 154.3Z"/><ellipse fill="#474747" cx="374.7" cy="105.2" rx="17.8" ry="20.1"/><path fill="#5c5c5c" d="M405.9 22.7L423.8 0.4L511.9 0.4L511.9 89.6L423.8 89.6Z"/><ellipse fill="#858585" cx="437.2" cy="65.1" rx="11.2" ry="11.2"/><ellipse fill="#787878" cx="488.5" cy="16" rx="11.2" ry="13.4"/><path fill="#252525" d="M428.2 94.1L457.2 98.5L468.4 111.9L490.7 116.4L490.7 125.3L457.2 120.9L437.2 111.9Z"/><path fill="#252525" d="M459.5 134.2L490.7 129.8L513 134.2L535.3 138.7L535.3 161L490.7 156.5L468.4 152.1Z"/></g><ellipse fill="#282828" cx="5.5" cy="143.2" rx="7.8" ry="17.8"/><ellipse fill="#282828" cx="95.8" cy="120.9" rx="6.7" ry="11.2"/><ellipse fill="#272727" cx="122.6" cy="96.3" rx="6.7" ry="15.6"/><ellipse fill="#282828" cx="115.9" cy="120.9" rx="11.2" ry="6.7"/><ellipse fill="#6e6e6e" cx="66.8" cy="145.4" rx="5.6" ry="6.7"/><ellipse fill="#6e6e6e" cx="73.5" cy="201.2" rx="8.9" ry="11.2"/><ellipse fill="#757575" cx="162.8" cy="169.9" rx="8.9" ry="11.2"/><ellipse fill="#6b6b6b" cx="153.8" cy="196.7" rx="6.7" ry="8.9"/><ellipse fill="#272727" cx="209.6" cy="38.3" rx="8.9" ry="17.8"/><ellipse fill="#282828" cx="234.1" cy="36.1" rx="11.2" ry="6.7"/><ellipse fill="#282828" cx="245.3" cy="49.5" rx="11.2" ry="4.5"/><ellipse fill="#282828" cx="231.9" cy="7.1" rx="11.2" ry="4.5"/><ellipse fill="#a8a8a8" cx="298.8" cy="22.7" rx="15.6" ry="8.9"/><ellipse fill="#999999" cx="189.5" cy="111.9" rx="6.7" ry="6.7"/><ellipse fill="#4c4c4c" cx="227.5" cy="125.3" rx="13.4" ry="6.7"/><ellipse fill="#b8b8b8" cx="256.5" cy="98.5" rx="8.9" ry="6.7"/><ellipse fill="#b8b8b8" cx="281" cy="78.5" rx="8.9" ry="11.2"/><ellipse fill="#b2b2b2" cx="267.6" cy="125.3" rx="8.9" ry="11.2"/><ellipse fill="#9e9e9e" cx="330.1" cy="94.1" rx="8.9" ry="13.4"/><ellipse fill="#b8b8b8" cx="252" cy="163.2" rx="8.9" ry="4.5"/><ellipse fill="#999999" cx="256.5" cy="190" rx="8.9" ry="11.2"/><ellipse fill="#999999" cx="347.9" cy="174.4" rx="11.2" ry="8.9"/><ellipse fill="#999999" cx="347.9" cy="223.5" rx="11.2" ry="6.7"/><ellipse fill="#9e9e9e" cx="439.4" cy="65.1" rx="4.5" ry="4.5"/><ellipse fill="#757575" cx="472.9" cy="67.3" rx="6.7" ry="8.9"/><ellipse fill="#282828" cx="412.6" cy="49.5" rx="5.6" ry="11.2"/><ellipse fill="#2a2a2a" cx="455" cy="22.7" rx="6.7" ry="6.7"/></g></g><g clip-path="url(#fr)"><use href="#land" fill="none" stroke="#a9a9a9" stroke-width="2" stroke-linejoin="round"/><use href="#lakes" fill="none" stroke="#a9a9a9" stroke-width="1.8" stroke-linejoin="round"/></g></g>
<path d="M1626.7 811.1V817.6M1626.7 1083.2V1089.7M1711.3 811.1V817.6M1711.3 1083.2V1089.7M1796.9 811.1V817.6M1796.9 1083.2V1089.7M1882.5 811.1V817.6M1882.5 1083.2V1089.7M1968 811.1V817.6M1968 1083.2V1089.7M2053.6 811.1V817.6M2053.6 1083.2V1089.7M2140.2 811.1V817.6M2140.2 1083.2V1089.7M1619.2 844.2H1626.7M2140.2 844.2H2147.7M1619.2 897.3H1626.7M2140.2 897.3H2147.7M1619.2 950.4H1626.7M2140.2 950.4H2147.7M1619.2 1003.5H1626.7M2140.2 1003.5H2147.7M1619.2 1056.6H1626.7M2140.2 1056.6H2147.7" stroke="#262626" stroke-width="1.6" fill="none"/><rect x="1626.7" y="817.6" width="513.5" height="265.6" fill="none" stroke="#262626" stroke-width="1.7"/><g font-size="27" fill="#3a3a3a"><text x="1625.7" y="1126" text-anchor="middle">0E</text><text x="1711.3" y="1126" text-anchor="middle">60E</text><text x="1796.9" y="1126" text-anchor="middle">120E</text><text x="1882.5" y="1126" text-anchor="middle">180E</text><text x="1968" y="1126" text-anchor="middle">120W</text><text x="2053.6" y="1126" text-anchor="middle">60W</text><text x="2139.2" y="1126" text-anchor="middle">0W</text><text x="1609.5" y="854" text-anchor="end">40N</text><text x="1609.5" y="907.1" text-anchor="end">20N</text><text x="1609.5" y="960.2" text-anchor="end">0</text><text x="1609.5" y="1013.3" text-anchor="end">20S</text><text x="1609.5" y="1066.4" text-anchor="end">40S</text></g><rect x="2181.7" y="1069.9" width="45.8" height="13.8" fill="rgb(185,170,255)"/><rect x="2181.7" y="1056.6" width="45.8" height="13.8" fill="rgb(130,110,222)"/><rect x="2181.7" y="1043.4" width="45.8" height="13.8" fill="rgb(80,60,190)"/><rect x="2181.7" y="1030.1" width="45.8" height="13.8" fill="rgb(40,16,160)"/><rect x="2181.7" y="1016.8" width="45.8" height="13.8" fill="rgb(170,225,255)"/><rect x="2181.7" y="1003.5" width="45.8" height="13.8" fill="rgb(110,180,222)"/><rect x="2181.7" y="990.2" width="45.8" height="13.8" fill="rgb(60,145,190)"/><rect x="2181.7" y="977" width="45.8" height="13.8" fill="rgb(16,112,160)"/><rect x="2181.7" y="963.7" width="45.8" height="13.8" fill="rgb(225,255,170)"/><rect x="2181.7" y="950.4" width="45.8" height="13.8" fill="rgb(180,222,110)"/><rect x="2181.7" y="937.1" width="45.8" height="13.8" fill="rgb(145,190,60)"/><rect x="2181.7" y="923.8" width="45.8" height="13.8" fill="rgb(112,160,16)"/><rect x="2181.7" y="910.6" width="45.8" height="13.8" fill="rgb(255,212,170)"/><rect x="2181.7" y="897.3" width="45.8" height="13.8" fill="rgb(222,165,110)"/><rect x="2181.7" y="884" width="45.8" height="13.8" fill="rgb(190,125,60)"/><rect x="2181.7" y="870.7" width="45.8" height="13.8" fill="rgb(160,88,16)"/><rect x="2181.7" y="857.4" width="45.8" height="13.8" fill="rgb(255,170,170)"/><rect x="2181.7" y="844.2" width="45.8" height="13.8" fill="rgb(222,110,110)"/><rect x="2181.7" y="830.9" width="45.8" height="13.8" fill="rgb(190,60,60)"/><rect x="2181.7" y="817.6" width="45.8" height="13.8" fill="rgb(160,16,16)"/><rect x="2181.7" y="817.6" width="45.8" height="265.6" fill="none" stroke="#262626" stroke-width="1.5"/><path d="M2222.5 950.4h5" stroke="#262626" stroke-width="1.2"/><g font-size="21.5" fill="#3a3a3a"><text x="2238" y="826.3">100</text><text x="2238" y="959.1">50</text><text x="2238" y="1091.9">0</text></g><text x="1882" y="805.4" font-size="30" fill="#111" text-anchor="middle">(i) ECA CCI</text>
</g>
<g id="p9">
<path d="M163.9 1180.6V1446.2M249.3 1180.6V1446.2M334.6 1180.6V1446.2M420 1180.6V1446.2M505.4 1180.6V1446.2M79.5 1207.2H591.8M79.5 1260.3H591.8M79.5 1313.4H591.8M79.5 1366.5H591.8M79.5 1419.6H591.8" stroke="#d9d9d9" stroke-width="1" fill="none"/>
<g transform="translate(79.5,1180.6)"><g mask="url(#ocean)"><g filter="url(#q9)"><g filter="url(#bl)"><path fill="#4c4c4c" d="M-21.8 -21.9H535.9V290.4H-21.8Z"/><path fill="#5c5c5c" d="M-21.8 223.5L214.7 223.5L214.7 290.4L-21.8 290.4Z"/><path fill="#7d7d7d" d="M96.4 152.1L112 138.7L129.9 134.2L127.7 152.1L112 161Z"/><ellipse fill="#7a7a7a" cx="89.7" cy="196.7" rx="11.2" ry="22.3"/><ellipse fill="#808080" cx="156.7" cy="178.9" rx="11.2" ry="13.4"/><ellipse fill="#707070" cx="56.3" cy="223.5" rx="26.8" ry="13.4"/><ellipse fill="#707070" cx="125.4" cy="219" rx="22.3" ry="11.2"/><ellipse fill="#6b6b6b" cx="67.4" cy="156.5" rx="11.2" ry="17.8"/><path fill="#616161" d="M190.1 56.2L201.3 0.4L279.4 0.4L279.4 67.3L190.1 67.3Z"/><path fill="#b8b8b8" d="M263.8 9.3L279.4 0.4L326.2 0.4L335.1 33.9L341.8 67.3L321.8 62.9L308.4 45L286.1 40.6L268.2 22.7Z"/><path fill="#808080" d="M205.7 62.9L230.3 62.9L232.5 116.4L201.3 116.4Z"/><path fill="#b8b8b8" d="M176.7 71.8L196.8 67.3L205.7 89.6L201.3 116.4L185.7 120.9L179 94.1Z"/><path fill="#c2c2c2" d="M230.3 71.8L257.1 65.1L290.5 60.6L324 69.5L341.8 89.6L344.1 111.9L321.8 125.3L301.7 134.2L290.5 152.1L268.2 147.6L252.6 134.2L245.9 111.9L232.5 94.1Z"/><ellipse fill="#adadad" cx="324" cy="89.6" rx="13.4" ry="17.8"/><ellipse fill="#808080" cx="357.4" cy="105.2" rx="13.4" ry="22.3"/><ellipse fill="#474747" cx="353" cy="140.9" rx="42.4" ry="16.7"/><path fill="#222222" d="M327.3 139.8L348.5 128.7L379.8 124.2L398.7 117.5L402.1 139.8L382 155.4L368.6 159.9L347.4 153.2Z"/><path fill="#6b6b6b" d="M214.7 156.5L413.2 156.5L413.2 279.2L214.7 279.2Z"/><path fill="#808080" d="M214.7 145.4L324 152.1L402.1 161L402.1 201.2L290.5 223.5L214.7 223.5Z"/><path fill="#b8b8b8" d="M274.9 161L297.2 165.5L290.5 174.4L277.1 172.2Z"/><path fill="#b8b8b8" d="M330.7 167.7L357.4 174.4L397.6 165.5L399.8 178.9L379.8 190L348.5 192.2L335.1 183.3Z"/><ellipse fill="#bdbdbd" cx="268.2" cy="205.6" rx="17.8" ry="17.8"/><path fill="#757575" d="M406.5 22.7L424.4 0.4L512.5 0.4L512.5 85.2L424.4 85.2Z"/><ellipse fill="#666666" cx="491.3" cy="201.2" rx="20.1" ry="33.5"/><ellipse fill="#808080" cx="424.4" cy="45" rx="13.4" ry="11.2"/><ellipse fill="#242424" cx="448.9" cy="100.8" rx="16.7" ry="11.2"/><ellipse fill="#242424" cx="473.5" cy="138.7" rx="15.6" ry="10.7"/></g><ellipse fill="#252525" cx="6.1" cy="143.2" rx="7.8" ry="15.6"/><ellipse fill="#757575" cx="5" cy="174.4" rx="5.6" ry="5.6"/><ellipse fill="#282828" cx="20.6" cy="243.5" rx="5.6" ry="11.2"/><ellipse fill="#282828" cx="94.2" cy="245.8" rx="6.7" ry="4.5"/><ellipse fill="#282828" cx="112" cy="256.9" rx="8.9" ry="4.5"/><ellipse fill="#787878" cx="145.5" cy="241.3" rx="11.2" ry="8.9"/><ellipse fill="#757575" cx="179" cy="243.5" rx="13.4" ry="8.9"/><ellipse fill="#252525" cx="94.2" cy="110.8" rx="8.9" ry="12.3"/><ellipse fill="#282828" cx="76.4" cy="116.4" rx="4.5" ry="5.6"/><ellipse fill="#242424" cx="124.3" cy="98.5" rx="9.4" ry="20.1"/><ellipse fill="#252525" cx="115.4" cy="120.9" rx="12.3" ry="7.8"/><ellipse fill="#272727" cx="136.6" cy="167.7" rx="6.7" ry="11.2"/><ellipse fill="#757575" cx="116.5" cy="190" rx="8.9" ry="6.7"/><ellipse fill="#7a7a7a" cx="143.3" cy="201.2" rx="8.9" ry="17.8"/><ellipse fill="#b2b2b2" cx="154.4" cy="205.6" rx="5.6" ry="11.2"/><ellipse fill="#282828" cx="230.3" cy="36.1" rx="4.5" ry="4.5"/><ellipse fill="#282828" cx="254.8" cy="31.6" rx="3.3" ry="3.3"/><ellipse fill="#787878" cx="221.4" cy="49.5" rx="6.7" ry="5.6"/><ellipse fill="#4c4c4c" cx="286.1" cy="53.9" rx="22.3" ry="3.3"/><ellipse fill="#d6d6d6" cx="290.5" cy="18.2" rx="20.1" ry="6.7"/><ellipse fill="#474747" cx="288.3" cy="10.4" rx="5.6" ry="2.7"/><ellipse fill="#808080" cx="301.7" cy="47.2" rx="11.2" ry="5.6"/><ellipse fill="#9e9e9e" cx="330.7" cy="60.6" rx="8.9" ry="8.9"/><ellipse fill="#d6d6d6" cx="257.1" cy="87.4" rx="6.7" ry="13.4"/><ellipse fill="#d6d6d6" cx="263.8" cy="74" rx="3.3" ry="8.9"/><ellipse fill="#d1d1d1" cx="292.8" cy="78.5" rx="8.9" ry="4.5"/><ellipse fill="#808080" cx="321.8" cy="98.5" rx="5.6" ry="8.9"/><ellipse fill="#474747" cx="384.2" cy="105.2" rx="8.9" ry="15.6"/><ellipse fill="#808080" cx="201.3" cy="125.3" rx="17.8" ry="8.9"/><ellipse fill="#4c4c4c" cx="220.2" cy="125.3" rx="11.2" ry="6.7" transform="rotate(-30 220.2 125.3)"/><ellipse fill="#a3a3a3" cx="243.7" cy="156.5" rx="6.7" ry="29"/><ellipse fill="#808080" cx="279.4" cy="152.1" rx="22.3" ry="6.7"/><ellipse fill="#9e9e9e" cx="225.8" cy="223.5" rx="6.7" ry="22.3"/><ellipse fill="#a8a8a8" cx="433.3" cy="60.6" rx="11.2" ry="6.7"/><ellipse fill="#9e9e9e" cx="491.3" cy="13.8" rx="6.7" ry="6.7"/><ellipse fill="#7a7a7a" cx="475.7" cy="56.2" rx="8.9" ry="13.4"/><ellipse fill="#282828" cx="448.9" cy="9.3" rx="6.7" ry="5.6"/><ellipse fill="#2a2a2a" cx="435.5" cy="22.7" rx="4.5" ry="4.5"/><ellipse fill="#282828" cx="486.8" cy="116.4" rx="6.7" ry="5.6"/><ellipse fill="#7a7a7a" cx="471.2" cy="85.2" rx="6.7" ry="11.2"/><ellipse fill="#282828" cx="471.2" cy="161" rx="5.6" ry="8.9"/><ellipse fill="#272727" cx="508" cy="145.4" rx="6.7" ry="11.2"/><ellipse fill="#787878" cx="469" cy="185.5" rx="6.7" ry="8.9"/><ellipse fill="#787878" cx="480.2" cy="234.6" rx="11.2" ry="8.9"/><ellipse fill="#787878" cx="502.5" cy="245.8" rx="6.7" ry="6.7"/><ellipse fill="#282828" cx="442.2" cy="243.5" rx="6.7" ry="8.9"/></g></g><g clip-path="url(#fr)"><use href="#land" fill="none" stroke="#a9a9a9" stroke-width="2" stroke-linejoin="round"/><use href="#lakes" fill="none" stroke="#a9a9a9" stroke-width="1.8" stroke-linejoin="round"/></g></g>
<path d="M79.5 1174.1V1180.6M79.5 1446.2V1452.7M163.9 1174.1V1180.6M163.9 1446.2V1452.7M249.3 1174.1V1180.6M249.3 1446.2V1452.7M334.6 1174.1V1180.6M334.6 1446.2V1452.7M420 1174.1V1180.6M420 1446.2V1452.7M505.4 1174.1V1180.6M505.4 1446.2V1452.7M591.8 1174.1V1180.6M591.8 1446.2V1452.7M72 1207.2H79.5M591.8 1207.2H599.3M72 1260.3H79.5M591.8 1260.3H599.3M72 1313.4H79.5M591.8 1313.4H599.3M72 1366.5H79.5M591.8 1366.5H599.3M72 1419.6H79.5M591.8 1419.6H599.3" stroke="#262626" stroke-width="1.6" fill="none"/><rect x="79.5" y="1180.6" width="512.3" height="265.6" fill="none" stroke="#262626" stroke-width="1.7"/><g font-size="27" fill="#3a3a3a"><text x="78.5" y="1489" text-anchor="middle">0E</text><text x="163.9" y="1489" text-anchor="middle">60E</text><text x="249.3" y="1489" text-anchor="middle">120E</text><text x="334.6" y="1489" text-anchor="middle">180E</text><text x="420" y="1489" text-anchor="middle">120W</text><text x="505.4" y="1489" text-anchor="middle">60W</text><text x="590.8" y="1489" text-anchor="middle">0W</text><text x="62.3" y="1217" text-anchor="end">40N</text><text x="62.3" y="1270.1" text-anchor="end">20N</text><text x="62.3" y="1323.2" text-anchor="end">0</text><text x="62.3" y="1376.3" text-anchor="end">20S</text><text x="62.3" y="1429.4" text-anchor="end">40S</text></g><rect x="633.3" y="1432.9" width="45.8" height="13.8" fill="rgb(185,170,255)"/><rect x="633.3" y="1419.6" width="45.8" height="13.8" fill="rgb(130,110,222)"/><rect x="633.3" y="1406.4" width="45.8" height="13.8" fill="rgb(80,60,190)"/><rect x="633.3" y="1393.1" width="45.8" height="13.8" fill="rgb(40,16,160)"/><rect x="633.3" y="1379.8" width="45.8" height="13.8" fill="rgb(170,225,255)"/><rect x="633.3" y="1366.5" width="45.8" height="13.8" fill="rgb(110,180,222)"/><rect x="633.3" y="1353.2" width="45.8" height="13.8" fill="rgb(60,145,190)"/><rect x="633.3" y="1340" width="45.8" height="13.8" fill="rgb(16,112,160)"/><rect x="633.3" y="1326.7" width="45.8" height="13.8" fill="rgb(225,255,170)"/><rect x="633.3" y="1313.4" width="45.8" height="13.8" fill="rgb(180,222,110)"/><rect x="633.3" y="1300.1" width="45.8" height="13.8" fill="rgb(145,190,60)"/><rect x="633.3" y="1286.8" width="45.8" height="13.8" fill="rgb(112,160,16)"/><rect x="633.3" y="1273.6" width="45.8" height="13.8" fill="rgb(255,212,170)"/><rect x="633.3" y="1260.3" width="45.8" height="13.8" fill="rgb(222,165,110)"/><rect x="633.3" y="1247" width="45.8" height="13.8" fill="rgb(190,125,60)"/><rect x="633.3" y="1233.7" width="45.8" height="13.8" fill="rgb(160,88,16)"/><rect x="633.3" y="1220.4" width="45.8" height="13.8" fill="rgb(255,170,170)"/><rect x="633.3" y="1207.2" width="45.8" height="13.8" fill="rgb(222,110,110)"/><rect x="633.3" y="1193.9" width="45.8" height="13.8" fill="rgb(190,60,60)"/><rect x="633.3" y="1180.6" width="45.8" height="13.8" fill="rgb(160,16,16)"/><rect x="633.3" y="1180.6" width="45.8" height="265.6" fill="none" stroke="#262626" stroke-width="1.5"/><path d="M674.1 1313.4h5" stroke="#262626" stroke-width="1.2"/><g font-size="21.5" fill="#3a3a3a"><text x="689.6" y="1189.3">100</text><text x="689.6" y="1322.1">50</text><text x="689.6" y="1454.9">0</text></g><text x="334.1" y="1168.4" font-size="30" fill="#111" text-anchor="middle">(j) CMEMS</text>
</g>
</svg>
</body></html>
